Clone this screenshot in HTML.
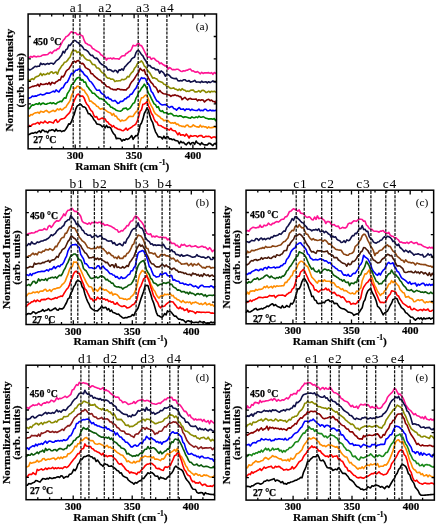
<!DOCTYPE html><html><head><meta charset="utf-8"><style>
html,body{margin:0;padding:0;background:#fff;}
body{width:436px;height:527px;overflow:hidden;}
svg{display:block;will-change:transform;}
text{font-family:"Liberation Serif",serif;}
.tl{font-size:11px;font-weight:bold;stroke:#000;stroke-width:0.2px;text-anchor:middle;}
.al{font-size:11.4px;font-weight:bold;stroke:#000;stroke-width:0.2px;text-anchor:middle;}
.pl{font-size:13.5px;letter-spacing:0.8px;text-anchor:middle;}
.tag{font-size:11.4px;text-anchor:middle;}
.tp{font-size:9.8px;font-weight:bold;stroke:#000;stroke-width:0.25px;}
</style></head><body><svg width="436" height="527" viewBox="0 0 436 527"><rect width="436" height="527" fill="#fff"/><path d="M28.1 58.2 L29.5 57.5 L30.9 56.4 L32.3 57.2 L33.7 56.1 L35.1 56.4 L36.5 56.9 L37.9 56.2 L39.3 56.5 L40.7 56.3 L42.1 55.3 L43.5 54.9 L44.9 54.9 L46.3 54.7 L47.7 54.5 L49.1 53 L50.5 52.1 L51.9 53.4 L53.3 51.6 L54.7 50.2 L56.1 50.4 L57.5 48.9 L58.9 48.6 L60.3 45.8 L61.7 43.2 L63.1 40.5 L64.5 39.2 L65.9 36.8 L67.3 36.1 L68.7 35 L70.1 33 L71.5 31.7 L72.9 32.5 L74.3 32.7 L75.7 32.8 L77.1 34.5 L78.5 34.6 L79.9 33.9 L81.3 35.6 L82.7 36.1 L84.1 40.2 L85.5 43.1 L86.9 43.7 L88.3 44.8 L89.7 45.1 L91.1 46.1 L92.5 48.5 L93.9 49.1 L95.3 50.1 L96.7 51 L98.1 51.7 L99.5 52.6 L100.9 54.8 L102.3 55.4 L103.7 56.9 L105.1 57.5 L106.5 60 L107.9 58.3 L109.3 58.5 L110.7 58.1 L112.1 59 L113.5 58 L114.9 58.7 L116.3 58.7 L117.7 58.7 L119.1 59.3 L120.5 57.4 L121.9 56.1 L123.3 55.7 L124.7 55.7 L126.1 53.5 L127.5 52.9 L128.9 51.6 L130.3 51.1 L131.7 48.8 L133.1 45.4 L134.5 45.7 L135.9 45.7 L137.3 43.9 L138.7 43.3 L140.1 45.5 L141.5 45.6 L142.9 48.2 L144.3 51 L145.7 54 L147.1 56.6 L148.5 57.3 L149.9 57 L151.3 59.4 L152.7 58.3 L154.1 58.3 L155.5 59.9 L156.9 61.1 L158.3 61.5 L159.7 63.9 L161.1 62.9 L162.5 64.2 L163.9 65 L165.3 66.1 L166.7 65.3 L168.1 69.1 L169.5 67.5 L170.9 68.4 L172.3 69.8 L173.7 69.4 L175.1 69.8 L176.5 69.3 L177.9 69.2 L179.3 70.1 L180.7 71.2 L182.1 71.5 L183.5 70.7 L184.9 71 L186.3 70.3 L187.7 70.1 L189.1 69.2 L190.5 69.1 L191.9 71 L193.3 70.8 L194.7 71.9 L196.1 72.2 L197.5 71.6 L198.9 72.7 L200.3 73.8 L201.7 72.3 L203.1 73.5 L204.5 72.7 L205.9 72.9 L207.3 72.9 L208.7 72.6 L210.1 73.4 L211.5 72.6 L212.9 74.3 L214.3 72.6 L215.7 73.2 L216.5 74" fill="none" stroke="#ff1493" stroke-width="1.6" stroke-linejoin="round"/><path d="M28.1 68.6 L29.5 70 L30.9 69.4 L32.3 68.6 L33.7 67.5 L35.1 66.3 L36.5 66.8 L37.9 66.2 L39.3 66.3 L40.7 63.2 L42.1 64.5 L43.5 63.7 L44.9 64.7 L46.3 64 L47.7 63.4 L49.1 64.2 L50.5 63.2 L51.9 63.2 L53.3 64.1 L54.7 62.8 L56.1 60.9 L57.5 59.9 L58.9 58.9 L60.3 56.7 L61.7 55.1 L63.1 51.2 L64.5 52.9 L65.9 49.7 L67.3 48.9 L68.7 45 L70.1 45.4 L71.5 43.6 L72.9 41.7 L74.3 40.4 L75.7 40.8 L77.1 42.2 L78.5 42.8 L79.9 44.7 L81.3 45.5 L82.7 47.1 L84.1 49.4 L85.5 49.8 L86.9 50.6 L88.3 51.9 L89.7 54.2 L91.1 55.5 L92.5 55.2 L93.9 57.4 L95.3 58.4 L96.7 58.1 L98.1 59.6 L99.5 62.1 L100.9 63.7 L102.3 64.8 L103.7 65.3 L105.1 66.5 L106.5 67.3 L107.9 70.1 L109.3 69.6 L110.7 70 L112.1 71 L113.5 71.8 L114.9 70.3 L116.3 70.8 L117.7 72.7 L119.1 69.9 L120.5 70.2 L121.9 68.9 L123.3 70.3 L124.7 66.9 L126.1 65.6 L127.5 63.9 L128.9 62.5 L130.3 61.3 L131.7 58.8 L133.1 57.8 L134.5 57.3 L135.9 52.9 L137.3 50.8 L138.7 50.5 L140.1 52.4 L141.5 54.6 L142.9 55.8 L144.3 58.8 L145.7 60.7 L147.1 63.4 L148.5 65.8 L149.9 65.4 L151.3 67.3 L152.7 68.1 L154.1 68 L155.5 69.6 L156.9 69.6 L158.3 69.9 L159.7 73.2 L161.1 70.9 L162.5 71.9 L163.9 73.3 L165.3 76.2 L166.7 74.1 L168.1 74.6 L169.5 75.5 L170.9 77.2 L172.3 78 L173.7 78.5 L175.1 78.6 L176.5 78.4 L177.9 80.6 L179.3 80.9 L180.7 80.4 L182.1 80.9 L183.5 79.8 L184.9 79.7 L186.3 80.9 L187.7 81.3 L189.1 80.5 L190.5 82.1 L191.9 81.7 L193.3 81.3 L194.7 80.3 L196.1 82.1 L197.5 82 L198.9 82 L200.3 82.6 L201.7 81.2 L203.1 82.3 L204.5 82 L205.9 81.7 L207.3 82.9 L208.7 81.7 L210.1 82.6 L211.5 81.9 L212.9 80.9 L214.3 82 L215.7 81.7 L216.5 82.8" fill="none" stroke="#101048" stroke-width="1.6" stroke-linejoin="round"/><path d="M28.1 78.8 L29.5 81.2 L30.9 79.5 L32.3 78.6 L33.7 79.5 L35.1 77.5 L36.5 76.6 L37.9 76.3 L39.3 75.4 L40.7 73.3 L42.1 75.6 L43.5 73.8 L44.9 74.8 L46.3 74.3 L47.7 73.1 L49.1 74.1 L50.5 72.2 L51.9 71.7 L53.3 73.4 L54.7 72.6 L56.1 72 L57.5 74.2 L58.9 70.3 L60.3 68.3 L61.7 65.8 L63.1 64.6 L64.5 62.2 L65.9 62 L67.3 60.7 L68.7 58.5 L70.1 57.1 L71.5 53.1 L72.9 50.5 L74.3 50.6 L75.7 50.5 L77.1 52.6 L78.5 51.9 L79.9 52.7 L81.3 55.9 L82.7 54.9 L84.1 57.1 L85.5 58.7 L86.9 59.8 L88.3 60.2 L89.7 60.3 L91.1 62.2 L92.5 64.5 L93.9 64.5 L95.3 65.3 L96.7 67.9 L98.1 68 L99.5 69 L100.9 71.2 L102.3 72.7 L103.7 73.2 L105.1 74.6 L106.5 77.1 L107.9 78.2 L109.3 78 L110.7 79.2 L112.1 79.1 L113.5 79.5 L114.9 81.6 L116.3 80.9 L117.7 81 L119.1 80.8 L120.5 80.7 L121.9 79.3 L123.3 79.7 L124.7 79.4 L126.1 78.6 L127.5 76.4 L128.9 77 L130.3 74.4 L131.7 72.6 L133.1 71.3 L134.5 68.3 L135.9 66.8 L137.3 63.9 L138.7 62.6 L140.1 62 L141.5 60.9 L142.9 62.8 L144.3 66 L145.7 67.1 L147.1 69.7 L148.5 71.5 L149.9 73.1 L151.3 75.7 L152.7 78.2 L154.1 77.7 L155.5 78.6 L156.9 79 L158.3 80.9 L159.7 81.4 L161.1 82 L162.5 82.6 L163.9 84.3 L165.3 84.5 L166.7 86.4 L168.1 86.3 L169.5 87.8 L170.9 88.5 L172.3 88.2 L173.7 87.9 L175.1 89.1 L176.5 89.3 L177.9 90.4 L179.3 89.1 L180.7 90.5 L182.1 88.7 L183.5 89.9 L184.9 90.2 L186.3 91.5 L187.7 91.1 L189.1 91.5 L190.5 90.3 L191.9 90.1 L193.3 90 L194.7 91.9 L196.1 91.9 L197.5 91.7 L198.9 90.7 L200.3 92.1 L201.7 90.6 L203.1 90.2 L204.5 91 L205.9 92.4 L207.3 92.2 L208.7 91.2 L210.1 92.4 L211.5 91.2 L212.9 91.7 L214.3 91.2 L215.7 92.1 L216.5 92.4" fill="none" stroke="#8a8a00" stroke-width="1.6" stroke-linejoin="round"/><path d="M28.1 88.2 L29.5 87.8 L30.9 87.1 L32.3 86.4 L33.7 86.4 L35.1 85.7 L36.5 85.6 L37.9 84.2 L39.3 86.3 L40.7 83.7 L42.1 84.5 L43.5 84.4 L44.9 84.2 L46.3 83.5 L47.7 84.4 L49.1 82.5 L50.5 84.9 L51.9 82.3 L53.3 83.1 L54.7 83.6 L56.1 81.8 L57.5 81.3 L58.9 79.8 L60.3 80 L61.7 76.3 L63.1 77 L64.5 75 L65.9 71.6 L67.3 69.9 L68.7 69.1 L70.1 66.9 L71.5 64.7 L72.9 61.8 L74.3 61.2 L75.7 62.4 L77.1 60.8 L78.5 60.4 L79.9 62.3 L81.3 63.7 L82.7 63.4 L84.1 64.9 L85.5 67.6 L86.9 68.4 L88.3 69.2 L89.7 70.1 L91.1 73.6 L92.5 73.7 L93.9 75.6 L95.3 76.8 L96.7 78 L98.1 79.1 L99.5 80.1 L100.9 80.6 L102.3 82.8 L103.7 83.1 L105.1 84.5 L106.5 86.5 L107.9 86.8 L109.3 87.2 L110.7 88.8 L112.1 89 L113.5 89.8 L114.9 89.6 L116.3 89.9 L117.7 88.7 L119.1 89 L120.5 89.8 L121.9 89.5 L123.3 89.9 L124.7 89.7 L126.1 90.1 L127.5 88.3 L128.9 87.3 L130.3 84.2 L131.7 81.9 L133.1 80.5 L134.5 78.5 L135.9 76.2 L137.3 73.9 L138.7 72.2 L140.1 68.3 L141.5 69.8 L142.9 70.8 L144.3 69.7 L145.7 74.4 L147.1 75.1 L148.5 78.1 L149.9 80.5 L151.3 82.7 L152.7 83.8 L154.1 86.5 L155.5 86.9 L156.9 89.1 L158.3 92.4 L159.7 90.4 L161.1 92 L162.5 93.2 L163.9 93.7 L165.3 94 L166.7 94.1 L168.1 94.8 L169.5 95.1 L170.9 96.4 L172.3 95.4 L173.7 95.4 L175.1 94.8 L176.5 95.7 L177.9 95.6 L179.3 96.6 L180.7 96.5 L182.1 99.6 L183.5 98.3 L184.9 97.4 L186.3 98.8 L187.7 99.9 L189.1 98.7 L190.5 98.4 L191.9 99.2 L193.3 99.2 L194.7 99.3 L196.1 98.9 L197.5 100.9 L198.9 99.7 L200.3 100.4 L201.7 99.8 L203.1 100 L204.5 102 L205.9 100.7 L207.3 99.7 L208.7 99.3 L210.1 100.7 L211.5 100 L212.9 101.4 L214.3 101.5 L215.7 103 L216.5 100.2" fill="none" stroke="#800000" stroke-width="1.6" stroke-linejoin="round"/><path d="M28.1 98.5 L29.5 97.9 L30.9 97.5 L32.3 96.1 L33.7 96.5 L35.1 95.9 L36.5 96.2 L37.9 95.2 L39.3 94.8 L40.7 94.1 L42.1 94.9 L43.5 94.8 L44.9 94.2 L46.3 93.1 L47.7 93 L49.1 93.3 L50.5 92.6 L51.9 91.9 L53.3 91.1 L54.7 92 L56.1 89.9 L57.5 91.1 L58.9 92 L60.3 89.7 L61.7 88.1 L63.1 87.7 L64.5 84.8 L65.9 82.7 L67.3 82.2 L68.7 79.4 L70.1 76.2 L71.5 73.3 L72.9 73.8 L74.3 72 L75.7 70.2 L77.1 70.3 L78.5 69.2 L79.9 68.8 L81.3 71 L82.7 72 L84.1 74.3 L85.5 75.6 L86.9 76.5 L88.3 78.8 L89.7 81.1 L91.1 81.9 L92.5 83.8 L93.9 85.9 L95.3 88.1 L96.7 90.1 L98.1 90.3 L99.5 90.1 L100.9 92.7 L102.3 93.9 L103.7 94.3 L105.1 96.5 L106.5 98.2 L107.9 97.1 L109.3 98.9 L110.7 99.1 L112.1 100.8 L113.5 101 L114.9 100.4 L116.3 101.8 L117.7 103.4 L119.1 103 L120.5 101.3 L121.9 101.5 L123.3 100.7 L124.7 98.9 L126.1 98.6 L127.5 97.1 L128.9 96.8 L130.3 94.4 L131.7 94.3 L133.1 92.2 L134.5 89.8 L135.9 88.4 L137.3 85.3 L138.7 82.6 L140.1 79.7 L141.5 77.6 L142.9 78.5 L144.3 78 L145.7 79.2 L147.1 82.8 L148.5 84.1 L149.9 86.9 L151.3 91.5 L152.7 92.8 L154.1 95.9 L155.5 98.7 L156.9 101 L158.3 101.5 L159.7 103.3 L161.1 104.4 L162.5 105 L163.9 104.7 L165.3 104.5 L166.7 105.3 L168.1 106.7 L169.5 107.6 L170.9 106.6 L172.3 106.6 L173.7 108.4 L175.1 108.9 L176.5 110.1 L177.9 108.6 L179.3 107.5 L180.7 109.1 L182.1 109.2 L183.5 108.9 L184.9 110.6 L186.3 108.9 L187.7 109.3 L189.1 109 L190.5 110.5 L191.9 109.2 L193.3 110 L194.7 110.3 L196.1 110.5 L197.5 110.4 L198.9 109 L200.3 110.7 L201.7 110.3 L203.1 110.8 L204.5 109.2 L205.9 109.2 L207.3 110.8 L208.7 110.8 L210.1 109.9 L211.5 110.7 L212.9 110.4 L214.3 110.7 L215.7 110.4 L216.5 110.3" fill="none" stroke="#0000ff" stroke-width="1.6" stroke-linejoin="round"/><path d="M28.1 107.9 L29.5 108.6 L30.9 106.4 L32.3 104.9 L33.7 105.2 L35.1 104.3 L36.5 103.7 L37.9 104.4 L39.3 102.9 L40.7 104.7 L42.1 103.4 L43.5 103.1 L44.9 104.2 L46.3 104.3 L47.7 103.5 L49.1 103.3 L50.5 102.6 L51.9 103.7 L53.3 102.7 L54.7 103.7 L56.1 103.9 L57.5 102.5 L58.9 102 L60.3 101.3 L61.7 101.8 L63.1 99.6 L64.5 97.8 L65.9 98.2 L67.3 93.7 L68.7 91.6 L70.1 89.3 L71.5 84.8 L72.9 83.8 L74.3 82 L75.7 79.6 L77.1 78.1 L78.5 77.5 L79.9 77.3 L81.3 80.3 L82.7 79.6 L84.1 82.3 L85.5 82.1 L86.9 86.1 L88.3 87.5 L89.7 89.7 L91.1 91 L92.5 93.3 L93.9 93.2 L95.3 94.4 L96.7 96.1 L98.1 97.1 L99.5 98.8 L100.9 98.5 L102.3 99.4 L103.7 99.4 L105.1 101.4 L106.5 102.5 L107.9 104.2 L109.3 104.8 L110.7 107.2 L112.1 107.3 L113.5 108.6 L114.9 109.1 L116.3 110.3 L117.7 110.7 L119.1 111 L120.5 111.2 L121.9 110.4 L123.3 108.6 L124.7 108.4 L126.1 107.9 L127.5 109.7 L128.9 108.9 L130.3 107.8 L131.7 105.6 L133.1 103.4 L134.5 102.7 L135.9 98.4 L137.3 96.1 L138.7 92.2 L140.1 90.9 L141.5 88.1 L142.9 86.6 L144.3 84.1 L145.7 86.3 L147.1 89.5 L148.5 93.4 L149.9 95.3 L151.3 98.3 L152.7 101.1 L154.1 103.8 L155.5 104.7 L156.9 107.5 L158.3 106.6 L159.7 110.3 L161.1 111.5 L162.5 110.7 L163.9 112.7 L165.3 112.7 L166.7 112.7 L168.1 114.3 L169.5 113.7 L170.9 113.4 L172.3 114.2 L173.7 115.7 L175.1 115.7 L176.5 115.6 L177.9 116.4 L179.3 115.9 L180.7 115.7 L182.1 116.6 L183.5 117.5 L184.9 116.7 L186.3 117 L187.7 117.4 L189.1 118 L190.5 118.1 L191.9 116.8 L193.3 117.7 L194.7 117.7 L196.1 116.9 L197.5 117.6 L198.9 116.2 L200.3 117.2 L201.7 117.3 L203.1 116.6 L204.5 117.4 L205.9 118.3 L207.3 118.5 L208.7 119.1 L210.1 118.8 L211.5 118.9 L212.9 119.2 L214.3 118.5 L215.7 120.7 L216.5 119.3" fill="none" stroke="#008000" stroke-width="1.6" stroke-linejoin="round"/><path d="M28.1 115.6 L29.5 116.1 L30.9 114.5 L32.3 114.9 L33.7 113.6 L35.1 112.9 L36.5 112.7 L37.9 112.2 L39.3 113.3 L40.7 111.3 L42.1 111.7 L43.5 112.3 L44.9 111.1 L46.3 110.4 L47.7 111.5 L49.1 112.7 L50.5 111.7 L51.9 111.1 L53.3 110.3 L54.7 111.5 L56.1 110.5 L57.5 108.8 L58.9 110 L60.3 108.6 L61.7 110 L63.1 109.3 L64.5 107.8 L65.9 107.2 L67.3 104.7 L68.7 102.8 L70.1 100.5 L71.5 95.5 L72.9 92.8 L74.3 88.1 L75.7 88.3 L77.1 86.2 L78.5 86.3 L79.9 87.9 L81.3 88 L82.7 90 L84.1 90.1 L85.5 92.8 L86.9 94.5 L88.3 96.9 L89.7 101.3 L91.1 101 L92.5 102.5 L93.9 103.5 L95.3 104.4 L96.7 106.3 L98.1 106.6 L99.5 108.6 L100.9 109.2 L102.3 108.3 L103.7 109.3 L105.1 109.8 L106.5 110.8 L107.9 112 L109.3 112.6 L110.7 113 L112.1 115.3 L113.5 113.5 L114.9 116.1 L116.3 116.1 L117.7 118.7 L119.1 119.5 L120.5 121.4 L121.9 120.1 L123.3 120.7 L124.7 120.5 L126.1 119.7 L127.5 118.1 L128.9 116.6 L130.3 116.3 L131.7 116.5 L133.1 116.4 L134.5 113.9 L135.9 112.1 L137.3 110.7 L138.7 107.7 L140.1 101.8 L141.5 97.7 L142.9 97.7 L144.3 96.2 L145.7 95 L147.1 95.9 L148.5 99.5 L149.9 103.2 L151.3 105.9 L152.7 108.1 L154.1 111.8 L155.5 113.9 L156.9 114.7 L158.3 116.1 L159.7 116.7 L161.1 118.4 L162.5 118.9 L163.9 120.7 L165.3 120.3 L166.7 120.7 L168.1 120.5 L169.5 122.2 L170.9 123.2 L172.3 122.7 L173.7 123.2 L175.1 122.6 L176.5 124.4 L177.9 124 L179.3 125.6 L180.7 125.8 L182.1 126.4 L183.5 126.3 L184.9 127 L186.3 125.3 L187.7 125.1 L189.1 126.8 L190.5 126.9 L191.9 126.4 L193.3 124.8 L194.7 126.1 L196.1 126.6 L197.5 126.9 L198.9 127.2 L200.3 125.1 L201.7 127 L203.1 126.2 L204.5 126.9 L205.9 126.7 L207.3 128.1 L208.7 126.8 L210.1 127.8 L211.5 127.6 L212.9 127.4 L214.3 126.8 L215.7 127.1 L216.5 127.2" fill="none" stroke="#ff8c00" stroke-width="1.6" stroke-linejoin="round"/><path d="M28.1 127.4 L29.5 125.6 L30.9 126.2 L32.3 124.4 L33.7 124 L35.1 124 L36.5 123.1 L37.9 122.4 L39.3 124.1 L40.7 122 L42.1 122.4 L43.5 122.9 L44.9 121 L46.3 122.4 L47.7 123.1 L49.1 121.7 L50.5 122 L51.9 122.4 L53.3 123.1 L54.7 120.6 L56.1 119.6 L57.5 122.4 L58.9 121.4 L60.3 119.5 L61.7 118.9 L63.1 118.6 L64.5 118.2 L65.9 116.6 L67.3 114.9 L68.7 113.7 L70.1 111.8 L71.5 108 L72.9 103.8 L74.3 100.4 L75.7 97.3 L77.1 94.7 L78.5 94 L79.9 95.9 L81.3 96.1 L82.7 96.1 L84.1 97.9 L85.5 101.6 L86.9 104.3 L88.3 105.7 L89.7 108.5 L91.1 110.6 L92.5 111.7 L93.9 115.6 L95.3 117.1 L96.7 116.6 L98.1 119.5 L99.5 119.4 L100.9 118.6 L102.3 118 L103.7 119 L105.1 118.9 L106.5 121.5 L107.9 122.1 L109.3 124.3 L110.7 124.8 L112.1 126.9 L113.5 125.7 L114.9 127.5 L116.3 128 L117.7 129 L119.1 129.4 L120.5 129.6 L121.9 130.5 L123.3 130.7 L124.7 129.6 L126.1 128.1 L127.5 130.2 L128.9 128.7 L130.3 128 L131.7 127.1 L133.1 125.9 L134.5 125.1 L135.9 124 L137.3 120.8 L138.7 116.8 L140.1 111.3 L141.5 109.7 L142.9 104.3 L144.3 104 L145.7 103.1 L147.1 101.6 L148.5 106 L149.9 108.9 L151.3 113.3 L152.7 115.2 L154.1 119 L155.5 121.7 L156.9 122.1 L158.3 125.2 L159.7 125.5 L161.1 125.8 L162.5 127 L163.9 127.6 L165.3 128.6 L166.7 128 L168.1 129.5 L169.5 130.1 L170.9 128.3 L172.3 130.3 L173.7 130.7 L175.1 130.7 L176.5 132.6 L177.9 134.9 L179.3 132.8 L180.7 135.3 L182.1 134.8 L183.5 134.9 L184.9 136.1 L186.3 134 L187.7 135.7 L189.1 138 L190.5 135.5 L191.9 136.3 L193.3 136.1 L194.7 135.7 L196.1 135.8 L197.5 136.9 L198.9 135.8 L200.3 135.5 L201.7 135.6 L203.1 137.2 L204.5 137.1 L205.9 136.2 L207.3 136.5 L208.7 136.3 L210.1 136.7 L211.5 138.1 L212.9 137.2 L214.3 136.8 L215.7 137.7 L216.5 136.4" fill="none" stroke="#ff0000" stroke-width="1.6" stroke-linejoin="round"/><path d="M28.1 135 L29.5 134.3 L30.9 133.5 L32.3 133 L33.7 133.2 L35.1 132.3 L36.5 133 L37.9 131.9 L39.3 130.8 L40.7 132.5 L42.1 130.1 L43.5 130.3 L44.9 131.7 L46.3 131.3 L47.7 132.7 L49.1 130.4 L50.5 130.5 L51.9 129.8 L53.3 130 L54.7 131.4 L56.1 129.2 L57.5 130.9 L58.9 130.7 L60.3 130.5 L61.7 131.7 L63.1 130.8 L64.5 130.9 L65.9 129 L67.3 126.8 L68.7 123.9 L70.1 124.1 L71.5 121.5 L72.9 117.4 L74.3 114.1 L75.7 109.2 L77.1 106.2 L78.5 105.2 L79.9 104.1 L81.3 104.7 L82.7 106.6 L84.1 106.9 L85.5 107.6 L86.9 110.3 L88.3 113.8 L89.7 113.7 L91.1 115.7 L92.5 117 L93.9 119.8 L95.3 121.2 L96.7 123.9 L98.1 124.2 L99.5 124.6 L100.9 125.2 L102.3 126.8 L103.7 125.9 L105.1 127.8 L106.5 125.4 L107.9 127.5 L109.3 127.1 L110.7 128 L112.1 131.1 L113.5 133.6 L114.9 134.8 L116.3 138.6 L117.7 138.4 L119.1 138.5 L120.5 138.8 L121.9 141.2 L123.3 139.5 L124.7 140.2 L126.1 138.8 L127.5 139.4 L128.9 138.7 L130.3 137.2 L131.7 135.6 L133.1 139.3 L134.5 137.1 L135.9 135.6 L137.3 135.7 L138.7 132.2 L140.1 125 L141.5 123 L142.9 119.1 L144.3 113.5 L145.7 110.9 L147.1 107.8 L148.5 110.5 L149.9 116.1 L151.3 120.2 L152.7 122.6 L154.1 127.7 L155.5 131.8 L156.9 134.1 L158.3 136.9 L159.7 136.8 L161.1 137.2 L162.5 139 L163.9 136.1 L165.3 138.5 L166.7 136.9 L168.1 136.8 L169.5 139.1 L170.9 138.7 L172.3 139.8 L173.7 139.2 L175.1 140.4 L176.5 140.7 L177.9 141 L179.3 143.7 L180.7 141.3 L182.1 142.8 L183.5 142.2 L184.9 143.9 L186.3 144.9 L187.7 143 L189.1 142.3 L190.5 144.6 L191.9 142.8 L193.3 142.6 L194.7 144.3 L196.1 141 L197.5 143.1 L198.9 143.5 L200.3 144.8 L201.7 142.7 L203.1 144.2 L204.5 144.9 L205.9 144.7 L207.3 145 L208.7 143.4 L210.1 143.4 L211.5 144.5 L212.9 145.6 L214.3 143.6 L215.7 144.1 L216.5 142.4" fill="none" stroke="#000000" stroke-width="1.6" stroke-linejoin="round"/><line x1="73.2" y1="14.8" x2="73.2" y2="147.6" stroke="#111" stroke-width="1.25" stroke-dasharray="3 1.2"/><line x1="79.9" y1="14.8" x2="79.9" y2="147.6" stroke="#111" stroke-width="1.25" stroke-dasharray="3 1.2"/><line x1="104.0" y1="14.8" x2="104.0" y2="147.6" stroke="#111" stroke-width="1.25" stroke-dasharray="3 1.2"/><line x1="138.2" y1="14.8" x2="138.2" y2="147.6" stroke="#111" stroke-width="1.25" stroke-dasharray="3 1.2"/><line x1="147.3" y1="14.8" x2="147.3" y2="147.6" stroke="#111" stroke-width="1.25" stroke-dasharray="3 1.2"/><line x1="166.9" y1="14.8" x2="166.9" y2="147.6" stroke="#111" stroke-width="1.25" stroke-dasharray="3 1.2"/><path d="M39.9 148.8V146.4M39.9 14V16.4M51.7 148.8V146.4M51.7 14V16.4M63.4 148.8V146.4M63.4 14V16.4M75.2 148.8V144.5M75.2 14V18.3M87 148.8V146.4M87 14V16.4M98.8 148.8V146.4M98.8 14V16.4M110.5 148.8V146.4M110.5 14V16.4M122.3 148.8V146.4M122.3 14V16.4M134.1 148.8V144.5M134.1 14V18.3M145.8 148.8V146.4M145.8 14V16.4M157.6 148.8V146.4M157.6 14V16.4M169.4 148.8V146.4M169.4 14V16.4M181.2 148.8V146.4M181.2 14V16.4M192.9 148.8V144.5M192.9 14V18.3M204.7 148.8V146.4M204.7 14V16.4M28.1 36.5H30.9M216.5 36.5H213.7M28.1 58.9H30.9M216.5 58.9H213.7M28.1 81.4H30.9M216.5 81.4H213.7M28.1 103.9H30.9M216.5 103.9H213.7M28.1 126.3H30.9M216.5 126.3H213.7" stroke="#000" stroke-width="1.3" fill="none"/><rect x="28.1" y="14.0" width="188.4" height="134.8" fill="none" stroke="#000" stroke-width="1.5"/><text x="75.2" y="159" class="tl">300</text><text x="134.1" y="159" class="tl">350</text><text x="192.9" y="159" class="tl">400</text><text x="122.3" y="169.6" class="al">Raman Shift (cm<tspan dx="1.2" dy="-4.2" font-size="7.5">-1</tspan><tspan dy="4.2">)</tspan></text><text transform="translate(12.8,80.2) rotate(-90)" class="al">Normalized Intensity</text><text transform="translate(23.5,80.2) rotate(-90)" class="al">(arb. units)</text><text x="77" y="11.7" class="pl">a1</text><text x="105.5" y="11.7" class="pl">a2</text><text x="143.2" y="11.7" class="pl">a3</text><text x="167.3" y="11.7" class="pl">a4</text><text x="202.1" y="29.6" class="tag">(a)</text><text x="33.2" y="44.8" class="tp">450 °C</text><text x="33.2" y="143.2" class="tp">27 °C</text><path d="M26.1 234.9 L27.4 234.2 L28.8 233.6 L30.2 233.4 L31.6 232.8 L33 233 L34.4 232.8 L35.8 231.6 L37.2 231.7 L38.6 230.5 L40 230 L41.4 230.1 L42.8 230 L44.2 228.5 L45.6 229.5 L47 229.7 L48.4 226.4 L49.8 225.5 L51.2 227.5 L52.6 225.8 L54 223.3 L55.4 221.9 L56.8 220.6 L58.2 221.2 L59.6 220.6 L61 218.5 L62.4 216.8 L63.8 213.9 L65.2 215.7 L66.6 212.1 L68 210.2 L69.4 210.1 L70.8 209 L72.2 208.4 L73.7 210.6 L75.1 211.5 L76.5 211.2 L77.9 212.9 L79.3 214.3 L80.7 216.3 L82.1 220.9 L83.5 222.6 L84.9 223 L86.3 223.6 L87.7 224.3 L89.1 222.8 L90.5 224.3 L91.9 222.4 L93.3 222.8 L94.7 222.4 L96.1 222.4 L97.5 223 L98.9 222.2 L100.3 222.3 L101.7 224.4 L103.1 223.3 L104.5 225.4 L105.9 225 L107.3 224.8 L108.7 225.6 L110.1 226 L111.5 226.6 L112.9 227.5 L114.3 228.3 L115.7 229.5 L117.1 229.7 L118.5 232.1 L119.9 231.8 L121.3 230.6 L122.7 231 L124.1 229.1 L125.5 228 L126.9 225.6 L128.3 225.8 L129.7 222.8 L131.1 221 L132.5 220.8 L133.9 218 L135.3 216.1 L136.7 216.5 L138.1 217.8 L139.5 220 L140.9 221.3 L142.3 223 L143.7 225.4 L145.1 229.4 L146.5 232.8 L147.9 234 L149.3 234.5 L150.7 233.8 L152.1 236.9 L153.5 236.1 L154.9 237 L156.3 236 L157.7 236.6 L159.1 237.4 L160.5 237 L161.9 237.4 L163.3 237.4 L164.7 237.6 L166.1 237.6 L167.5 239.8 L168.9 238.9 L170.3 241.4 L171.7 243.5 L173.1 243.3 L174.5 243.5 L175.9 245.6 L177.3 245.2 L178.7 247.1 L180.1 247.1 L181.5 244.4 L182.9 245.3 L184.3 244.4 L185.7 245.8 L187.1 246.4 L188.5 245.7 L189.9 245.3 L191.3 246.6 L192.7 246.5 L194.1 246.3 L195.5 245.7 L196.9 246.8 L198.3 247.5 L199.7 247.1 L201.1 246.4 L202.5 246.2 L203.9 247.3 L205.3 247 L206.7 248.4 L208.1 249.6 L209.5 247.6 L210.9 249.1 L212.3 251.7 L213.7 250.3 L214.9 249.9" fill="none" stroke="#ff1493" stroke-width="1.6" stroke-linejoin="round"/><path d="M26.1 246.2 L27.4 245.3 L28.8 243.6 L30.2 244.8 L31.6 241.9 L33 243.4 L34.4 243.9 L35.8 243.6 L37.2 241.9 L38.6 242.4 L40 241.8 L41.4 241 L42.8 241 L44.2 240.1 L45.6 240 L47 239 L48.4 238.3 L49.8 236.8 L51.2 234.8 L52.6 235.6 L54 234.3 L55.4 233.4 L56.8 231 L58.2 229.6 L59.6 228.4 L61 228.4 L62.4 226.5 L63.8 225.6 L65.2 222 L66.6 221.1 L68 219.7 L69.4 219.7 L70.8 215.6 L72.2 217.4 L73.7 219.2 L75.1 221.2 L76.5 224.5 L77.9 223.8 L79.3 226 L80.7 227.1 L82.1 230 L83.5 230.8 L84.9 233.5 L86.3 233.8 L87.7 235.1 L89.1 235.3 L90.5 235.1 L91.9 237.4 L93.3 236.8 L94.7 235.6 L96.1 235.2 L97.5 236.9 L98.9 236.4 L100.3 235.5 L101.7 236.7 L103.1 239 L104.5 238.9 L105.9 239.5 L107.3 240.8 L108.7 241.1 L110.1 241 L111.5 240.9 L112.9 243.6 L114.3 242.5 L115.7 244.7 L117.1 245.3 L118.5 244.2 L119.9 243.6 L121.3 245 L122.7 245.7 L124.1 242.2 L125.5 243.1 L126.9 239.3 L128.3 237.6 L129.7 235.2 L131.1 231.8 L132.5 229.6 L133.9 228.6 L135.3 228.6 L136.7 226.6 L138.1 222.8 L139.5 226.8 L140.9 227.8 L142.3 228.6 L143.7 231.7 L145.1 236.9 L146.5 239.3 L147.9 240.8 L149.3 241.6 L150.7 244.2 L152.1 243.8 L153.5 245.4 L154.9 244.7 L156.3 245.5 L157.7 245.1 L159.1 245 L160.5 245.4 L161.9 245.4 L163.3 244.3 L164.7 246.5 L166.1 248.5 L167.5 249 L168.9 248.7 L170.3 251.1 L171.7 249.8 L173.1 251.8 L174.5 251.8 L175.9 254.5 L177.3 254.6 L178.7 255 L180.1 256.1 L181.5 254.5 L182.9 256.1 L184.3 255.9 L185.7 255.4 L187.1 254.9 L188.5 255.4 L189.9 255.9 L191.3 256.7 L192.7 257.3 L194.1 256.9 L195.5 256.6 L196.9 254.6 L198.3 256.2 L199.7 256.3 L201.1 257.2 L202.5 257 L203.9 257.1 L205.3 258.2 L206.7 257.8 L208.1 256.6 L209.5 257.4 L210.9 259.5 L212.3 259.5 L213.7 258.1 L214.9 258.6" fill="none" stroke="#101048" stroke-width="1.6" stroke-linejoin="round"/><path d="M26.1 257.4 L27.4 256.8 L28.8 255.8 L30.2 255.9 L31.6 254.3 L33 253.1 L34.4 254.7 L35.8 253.6 L37.2 254.8 L38.6 252 L40 252.2 L41.4 252.7 L42.8 251.1 L44.2 251.3 L45.6 249.4 L47 249.7 L48.4 250 L49.8 248.6 L51.2 249.4 L52.6 250.4 L54 249.1 L55.4 246.3 L56.8 246.8 L58.2 243.5 L59.6 241.6 L61 238.8 L62.4 237.5 L63.8 237.4 L65.2 233.4 L66.6 233.1 L68 230.1 L69.4 226.9 L70.8 226.1 L72.2 227.9 L73.7 227.8 L75.1 228.6 L76.5 231.3 L77.9 233.7 L79.3 237.2 L80.7 238.8 L82.1 240.8 L83.5 241.6 L84.9 242.9 L86.3 245.2 L87.7 247.7 L89.1 247.8 L90.5 248.7 L91.9 248.8 L93.3 248.4 L94.7 248.3 L96.1 248.4 L97.5 246.7 L98.9 247.9 L100.3 246.4 L101.7 248.7 L103.1 248.6 L104.5 250.3 L105.9 251.5 L107.3 253.9 L108.7 252.4 L110.1 253.6 L111.5 255.4 L112.9 255.7 L114.3 257.9 L115.7 257.2 L117.1 258.6 L118.5 256.2 L119.9 258.5 L121.3 258.3 L122.7 258.5 L124.1 256.1 L125.5 256.4 L126.9 253.5 L128.3 252.9 L129.7 251 L131.1 248.1 L132.5 244.9 L133.9 243.8 L135.3 239.1 L136.7 238.3 L138.1 235.1 L139.5 235.6 L140.9 236 L142.3 237.9 L143.7 240.6 L145.1 244.9 L146.5 248.2 L147.9 248.6 L149.3 252.9 L150.7 252.8 L152.1 253.1 L153.5 254 L154.9 253.1 L156.3 255.8 L157.7 257.1 L159.1 257 L160.5 255 L161.9 254.2 L163.3 255.1 L164.7 254.6 L166.1 255.9 L167.5 255.7 L168.9 256.2 L170.3 257.7 L171.7 258.9 L173.1 258.1 L174.5 259.4 L175.9 261.4 L177.3 260.1 L178.7 261.8 L180.1 262.7 L181.5 264.1 L182.9 264 L184.3 263.9 L185.7 263.6 L187.1 263.4 L188.5 265.7 L189.9 264.6 L191.3 263.4 L192.7 266 L194.1 263.9 L195.5 264.7 L196.9 265.1 L198.3 263.4 L199.7 265.1 L201.1 266.2 L202.5 267.7 L203.9 267.4 L205.3 268.2 L206.7 266.6 L208.1 266.8 L209.5 266.4 L210.9 268.2 L212.3 267.6 L213.7 267.7 L214.9 267.1" fill="none" stroke="#8b4513" stroke-width="1.6" stroke-linejoin="round"/><path d="M26.1 267.4 L27.4 268 L28.8 267.3 L30.2 266.5 L31.6 266.9 L33 267.1 L34.4 263.1 L35.8 264.3 L37.2 263.7 L38.6 263.3 L40 263.6 L41.4 263.4 L42.8 262.4 L44.2 262.7 L45.6 261.5 L47 261.3 L48.4 260.3 L49.8 262.2 L51.2 260.4 L52.6 259.9 L54 259.8 L55.4 258.5 L56.8 256.4 L58.2 257.3 L59.6 253.6 L61 252.2 L62.4 249.4 L63.8 248.8 L65.2 247.5 L66.6 244.5 L68 241.4 L69.4 239.9 L70.8 236.5 L72.2 236.4 L73.7 238 L75.1 238.8 L76.5 240.6 L77.9 242.1 L79.3 244.3 L80.7 245.6 L82.1 248.5 L83.5 250.4 L84.9 252.7 L86.3 253.4 L87.7 255.6 L89.1 258 L90.5 257.8 L91.9 257.6 L93.3 257 L94.7 258.1 L96.1 259.4 L97.5 258 L98.9 259.7 L100.3 258.5 L101.7 259.6 L103.1 260.6 L104.5 261.4 L105.9 262.8 L107.3 262.2 L108.7 264.5 L110.1 266.4 L111.5 264.7 L112.9 264.9 L114.3 267.6 L115.7 263.7 L117.1 267.5 L118.5 266.9 L119.9 267.9 L121.3 268 L122.7 266.6 L124.1 268 L125.5 267.1 L126.9 265.5 L128.3 266.5 L129.7 262.4 L131.1 260.8 L132.5 258.6 L133.9 256.6 L135.3 252.9 L136.7 248.9 L138.1 246.4 L139.5 244.2 L140.9 246.4 L142.3 245.2 L143.7 247.6 L145.1 249.8 L146.5 253.9 L147.9 256.5 L149.3 259.9 L150.7 262.5 L152.1 264 L153.5 264 L154.9 265.9 L156.3 266.9 L157.7 266.9 L159.1 267 L160.5 265.9 L161.9 264.6 L163.3 265 L164.7 266.6 L166.1 264.9 L167.5 266.6 L168.9 266.9 L170.3 268.4 L171.7 269.7 L173.1 268.2 L174.5 268.4 L175.9 270.1 L177.3 270.4 L178.7 272.2 L180.1 271.8 L181.5 272.4 L182.9 272.5 L184.3 273.6 L185.7 273.1 L187.1 274.3 L188.5 274.5 L189.9 274.2 L191.3 275.7 L192.7 273 L194.1 274.1 L195.5 273.7 L196.9 275.3 L198.3 274.4 L199.7 276.2 L201.1 274.9 L202.5 276.4 L203.9 273.6 L205.3 274.9 L206.7 275.6 L208.1 274.7 L209.5 276.5 L210.9 275.5 L212.3 275.1 L213.7 276.3 L214.9 276.5" fill="none" stroke="#4a1a0a" stroke-width="1.6" stroke-linejoin="round"/><path d="M26.1 274.7 L27.4 274.9 L28.8 275.6 L30.2 273.7 L31.6 275.5 L33 273.5 L34.4 273.5 L35.8 272.8 L37.2 272.3 L38.6 271.7 L40 271.7 L41.4 271.4 L42.8 271.2 L44.2 271.5 L45.6 270.6 L47 269.8 L48.4 270.9 L49.8 269.1 L51.2 269.5 L52.6 268.5 L54 266.5 L55.4 268.5 L56.8 266.8 L58.2 265.9 L59.6 266.7 L61 264.7 L62.4 264.4 L63.8 262.1 L65.2 258.7 L66.6 256.1 L68 250.8 L69.4 248.1 L70.8 246.1 L72.2 244.8 L73.7 244.8 L75.1 244.4 L76.5 244.7 L77.9 246.4 L79.3 247.6 L80.7 254.3 L82.1 256.7 L83.5 258.9 L84.9 263.6 L86.3 263.7 L87.7 265.4 L89.1 267.6 L90.5 267.7 L91.9 267.8 L93.3 268.5 L94.7 268.5 L96.1 267.9 L97.5 265.9 L98.9 265.9 L100.3 268.9 L101.7 267.2 L103.1 266.1 L104.5 268.2 L105.9 269.5 L107.3 270.3 L108.7 272.1 L110.1 273.7 L111.5 273.7 L112.9 275 L114.3 275.2 L115.7 277.2 L117.1 276.5 L118.5 278.4 L119.9 278.6 L121.3 276.8 L122.7 278.5 L124.1 278.1 L125.5 277.8 L126.9 276.3 L128.3 274.7 L129.7 274.2 L131.1 270.8 L132.5 270.8 L133.9 267.7 L135.3 265.9 L136.7 258.9 L138.1 253.1 L139.5 251.7 L140.9 251.4 L142.3 250.5 L143.7 251.2 L145.1 254.2 L146.5 256.5 L147.9 261.1 L149.3 266.6 L150.7 268 L152.1 271.9 L153.5 275.2 L154.9 275.9 L156.3 277.1 L157.7 276.7 L159.1 276.5 L160.5 273.7 L161.9 275 L163.3 273.8 L164.7 273.1 L166.1 273.1 L167.5 275.5 L168.9 276 L170.3 275.4 L171.7 275.6 L173.1 280.3 L174.5 279.6 L175.9 280.8 L177.3 281.3 L178.7 281.3 L180.1 283.2 L181.5 283.2 L182.9 283.1 L184.3 284.5 L185.7 283.9 L187.1 284.8 L188.5 285.1 L189.9 284.2 L191.3 284.7 L192.7 286.1 L194.1 286.7 L195.5 285.8 L196.9 286.8 L198.3 288.1 L199.7 286.5 L201.1 285.4 L202.5 285.3 L203.9 286.8 L205.3 286.7 L206.7 286.7 L208.1 286.7 L209.5 286.9 L210.9 285.8 L212.3 286.4 L213.7 287.8 L214.9 285.8" fill="none" stroke="#0000ff" stroke-width="1.6" stroke-linejoin="round"/><path d="M26.1 285.8 L27.4 285.3 L28.8 284.4 L30.2 285.7 L31.6 283.7 L33 281.5 L34.4 281.2 L35.8 283.3 L37.2 282.1 L38.6 278.9 L40 281 L41.4 279.5 L42.8 279.8 L44.2 280.3 L45.6 278.7 L47 280.6 L48.4 278.3 L49.8 278.2 L51.2 277.5 L52.6 277.3 L54 277.9 L55.4 276.9 L56.8 278.3 L58.2 276.5 L59.6 275.2 L61 275.8 L62.4 273.7 L63.8 270.4 L65.2 268.3 L66.6 264.7 L68 262.4 L69.4 258.9 L70.8 255.8 L72.2 255.4 L73.7 254 L75.1 254 L76.5 255.1 L77.9 257.8 L79.3 260 L80.7 260 L82.1 263 L83.5 268.5 L84.9 270 L86.3 271 L87.7 273.7 L89.1 275.9 L90.5 278.1 L91.9 278.6 L93.3 278 L94.7 277.8 L96.1 276.7 L97.5 277.9 L98.9 277.5 L100.3 276.1 L101.7 276.1 L103.1 276.7 L104.5 277.7 L105.9 279.9 L107.3 279.3 L108.7 281 L110.1 281.6 L111.5 283.3 L112.9 283.1 L114.3 285.7 L115.7 286.5 L117.1 287 L118.5 286.8 L119.9 287.5 L121.3 287.4 L122.7 289.1 L124.1 287.9 L125.5 287.2 L126.9 286.7 L128.3 285.2 L129.7 284.8 L131.1 284.1 L132.5 282 L133.9 279.5 L135.3 275.8 L136.7 270.2 L138.1 265.8 L139.5 263.3 L140.9 262 L142.3 261.1 L143.7 260.6 L145.1 264.1 L146.5 269.9 L147.9 272.5 L149.3 274.5 L150.7 278.4 L152.1 279.5 L153.5 282.7 L154.9 283.3 L156.3 284 L157.7 285.8 L159.1 284.8 L160.5 284.2 L161.9 284.3 L163.3 282.7 L164.7 283 L166.1 283.5 L167.5 282.5 L168.9 282.4 L170.3 284.3 L171.7 284.2 L173.1 286.7 L174.5 287.6 L175.9 288.2 L177.3 290.1 L178.7 289.9 L180.1 290.4 L181.5 292 L182.9 291.5 L184.3 291.6 L185.7 292.9 L187.1 292.3 L188.5 294.1 L189.9 292 L191.3 293.4 L192.7 293.3 L194.1 294.2 L195.5 295.3 L196.9 293.9 L198.3 293.6 L199.7 294.6 L201.1 293.7 L202.5 294.5 L203.9 296 L205.3 294.7 L206.7 296.7 L208.1 295.5 L209.5 295.2 L210.9 295.2 L212.3 295.6 L213.7 295.1 L214.9 295.9" fill="none" stroke="#0a5a0a" stroke-width="1.6" stroke-linejoin="round"/><path d="M26.1 296.6 L27.4 294.8 L28.8 293.3 L30.2 293.5 L31.6 293.3 L33 292.1 L34.4 292.6 L35.8 292.4 L37.2 291.6 L38.6 292.8 L40 291.3 L41.4 291 L42.8 291.1 L44.2 289.8 L45.6 289.2 L47 291.2 L48.4 290.8 L49.8 289.6 L51.2 291.5 L52.6 289.6 L54 288.9 L55.4 288.9 L56.8 288.1 L58.2 287.9 L59.6 287.7 L61 286.3 L62.4 284.3 L63.8 283.3 L65.2 281.4 L66.6 277.6 L68 274.4 L69.4 269.7 L70.8 267.1 L72.2 266.8 L73.7 261.9 L75.1 262.3 L76.5 262 L77.9 264.3 L79.3 267.5 L80.7 270.2 L82.1 273.2 L83.5 276.5 L84.9 279.3 L86.3 282.4 L87.7 284.6 L89.1 286.7 L90.5 286.7 L91.9 287.7 L93.3 291.5 L94.7 289 L96.1 289.9 L97.5 291.3 L98.9 289.2 L100.3 287.2 L101.7 289.4 L103.1 289 L104.5 290.3 L105.9 289.6 L107.3 290.9 L108.7 291.9 L110.1 293.5 L111.5 292.1 L112.9 295.1 L114.3 294 L115.7 294.1 L117.1 294.8 L118.5 296.3 L119.9 298.3 L121.3 298.2 L122.7 298.5 L124.1 299.3 L125.5 298.9 L126.9 299.8 L128.3 298.9 L129.7 299 L131.1 296.6 L132.5 295.6 L133.9 294 L135.3 290.9 L136.7 287 L138.1 280.8 L139.5 274.9 L140.9 272.5 L142.3 270.4 L143.7 271.6 L145.1 272.4 L146.5 273.6 L147.9 278 L149.3 279.4 L150.7 284.1 L152.1 286.9 L153.5 289.8 L154.9 291.2 L156.3 294.8 L157.7 296.9 L159.1 298.1 L160.5 296.3 L161.9 295.5 L163.3 295.9 L164.7 294.1 L166.1 294.8 L167.5 294.3 L168.9 294.7 L170.3 293.7 L171.7 295.8 L173.1 295.4 L174.5 297.8 L175.9 298.1 L177.3 299.6 L178.7 299.8 L180.1 301.2 L181.5 302.3 L182.9 300.5 L184.3 302 L185.7 302.8 L187.1 301.9 L188.5 302.6 L189.9 301.9 L191.3 304.1 L192.7 302.5 L194.1 302.7 L195.5 302 L196.9 302.7 L198.3 303.3 L199.7 304.3 L201.1 303.3 L202.5 304.6 L203.9 303.9 L205.3 302.5 L206.7 304.9 L208.1 304.2 L209.5 303.5 L210.9 305.3 L212.3 304.4 L213.7 306.1 L214.9 305.5" fill="none" stroke="#ff8c00" stroke-width="1.6" stroke-linejoin="round"/><path d="M26.1 307 L27.4 305.1 L28.8 303.8 L30.2 303.2 L31.6 301.9 L33 301.6 L34.4 300.2 L35.8 301.6 L37.2 300 L38.6 300.9 L40 301.4 L41.4 299.6 L42.8 299.6 L44.2 299.4 L45.6 299.6 L47 298.8 L48.4 298.3 L49.8 298.9 L51.2 299.6 L52.6 298.9 L54 298.6 L55.4 297.6 L56.8 298.3 L58.2 297 L59.6 296.7 L61 296 L62.4 296.4 L63.8 293.8 L65.2 291.6 L66.6 289.4 L68 288 L69.4 285.1 L70.8 280.7 L72.2 277.6 L73.7 273.5 L75.1 271.6 L76.5 271.2 L77.9 273.4 L79.3 273.2 L80.7 277.3 L82.1 281.2 L83.5 284.3 L84.9 288.9 L86.3 290.1 L87.7 293.1 L89.1 295.9 L90.5 298.9 L91.9 298.6 L93.3 301 L94.7 299.7 L96.1 299.9 L97.5 297.2 L98.9 298.5 L100.3 299 L101.7 297.6 L103.1 299.2 L104.5 298.8 L105.9 300.1 L107.3 299.5 L108.7 301.6 L110.1 301.1 L111.5 302.3 L112.9 301.8 L114.3 304 L115.7 304.1 L117.1 302.6 L118.5 304.7 L119.9 305.6 L121.3 306.4 L122.7 306.5 L124.1 305.8 L125.5 306.4 L126.9 307.9 L128.3 307.7 L129.7 307.2 L131.1 306.1 L132.5 304.7 L133.9 304.4 L135.3 302.3 L136.7 300.3 L138.1 293.9 L139.5 288.4 L140.9 286.1 L142.3 282.5 L143.7 278.9 L145.1 277.8 L146.5 275.6 L147.9 278.4 L149.3 282.3 L150.7 286.9 L152.1 291 L153.5 295.7 L154.9 297.8 L156.3 300.7 L157.7 302.4 L159.1 306.3 L160.5 307.8 L161.9 306 L163.3 306.5 L164.7 306.1 L166.1 304.3 L167.5 303.1 L168.9 302.1 L170.3 301.5 L171.7 301.7 L173.1 302 L174.5 304.1 L175.9 305.6 L177.3 307.7 L178.7 308.7 L180.1 306.9 L181.5 308.7 L182.9 308.4 L184.3 310.5 L185.7 310 L187.1 308.9 L188.5 312.1 L189.9 310.6 L191.3 311.3 L192.7 311.4 L194.1 312.1 L195.5 313.4 L196.9 311.7 L198.3 312.1 L199.7 312 L201.1 312.4 L202.5 312.2 L203.9 312.3 L205.3 312.5 L206.7 312.2 L208.1 312.2 L209.5 312.3 L210.9 313.2 L212.3 312.9 L213.7 313.3 L214.9 313.4" fill="none" stroke="#ff0000" stroke-width="1.6" stroke-linejoin="round"/><path d="M26.1 315.2 L27.4 313.9 L28.8 313.6 L30.2 314.1 L31.6 313.6 L33 311.8 L34.4 312.2 L35.8 313.6 L37.2 312.7 L38.6 311.9 L40 311.6 L41.4 311.1 L42.8 309.5 L44.2 311.4 L45.6 310.4 L47 310.3 L48.4 308.8 L49.8 310.6 L51.2 310.5 L52.6 309.6 L54 308.8 L55.4 308 L56.8 309.7 L58.2 310.3 L59.6 308.4 L61 308.9 L62.4 308.9 L63.8 307.7 L65.2 305 L66.6 302.5 L68 298.9 L69.4 297.9 L70.8 293.2 L72.2 291.1 L73.7 286.8 L75.1 284.9 L76.5 281.4 L77.9 280.4 L79.3 281.1 L80.7 281.9 L82.1 286.8 L83.5 288.6 L84.9 294 L86.3 298.3 L87.7 301.6 L89.1 304.2 L90.5 307.5 L91.9 308.9 L93.3 309.8 L94.7 310.7 L96.1 310.7 L97.5 311 L98.9 309.4 L100.3 308.3 L101.7 306.1 L103.1 307.9 L104.5 307.6 L105.9 307.3 L107.3 309.8 L108.7 308.7 L110.1 311.4 L111.5 310.1 L112.9 312.4 L114.3 312.8 L115.7 313.4 L117.1 314.3 L118.5 314 L119.9 315.6 L121.3 316.7 L122.7 317.8 L124.1 318.1 L125.5 317.5 L126.9 317.7 L128.3 316.9 L129.7 316.8 L131.1 316.1 L132.5 314.6 L133.9 315.6 L135.3 312 L136.7 310.4 L138.1 308 L139.5 303.4 L140.9 298.9 L142.3 295.1 L143.7 291.2 L145.1 285.9 L146.5 285.4 L147.9 285.5 L149.3 289.9 L150.7 294.1 L152.1 299.3 L153.5 302.6 L154.9 307.3 L156.3 312.3 L157.7 315.4 L159.1 315.8 L160.5 316.8 L161.9 317.4 L163.3 315.8 L164.7 313.5 L166.1 314.9 L167.5 310.8 L168.9 311.8 L170.3 311.2 L171.7 312.7 L173.1 314.6 L174.5 316.2 L175.9 316.1 L177.3 317.7 L178.7 319.2 L180.1 319.1 L181.5 319.9 L182.9 319.9 L184.3 320.9 L185.7 322.6 L187.1 321 L188.5 320.8 L189.9 321.5 L191.3 321.6 L192.7 322.3 L194.1 322.5 L195.5 322.3 L196.9 322.3 L198.3 322.7 L199.7 321.3 L201.1 322 L202.5 322.2 L203.9 321.7 L205.3 323 L206.7 323.1 L208.1 322.9 L209.5 323.2 L210.9 322 L212.3 322.7 L213.7 322.3 L214.9 323.3" fill="none" stroke="#000000" stroke-width="1.6" stroke-linejoin="round"/><line x1="71.2" y1="191" x2="71.2" y2="323.3" stroke="#111" stroke-width="1.25" stroke-dasharray="3 1.2"/><line x1="77.8" y1="191" x2="77.8" y2="323.3" stroke="#111" stroke-width="1.25" stroke-dasharray="3 1.2"/><line x1="94.4" y1="191" x2="94.4" y2="323.3" stroke="#111" stroke-width="1.25" stroke-dasharray="3 1.2"/><line x1="101.7" y1="191" x2="101.7" y2="323.3" stroke="#111" stroke-width="1.25" stroke-dasharray="3 1.2"/><line x1="136.1" y1="191" x2="136.1" y2="323.3" stroke="#111" stroke-width="1.25" stroke-dasharray="3 1.2"/><line x1="145.1" y1="191" x2="145.1" y2="323.3" stroke="#111" stroke-width="1.25" stroke-dasharray="3 1.2"/><line x1="162.1" y1="191" x2="162.1" y2="323.3" stroke="#111" stroke-width="1.25" stroke-dasharray="3 1.2"/><line x1="169.8" y1="191" x2="169.8" y2="323.3" stroke="#111" stroke-width="1.25" stroke-dasharray="3 1.2"/><path d="M37.9 324.5V322.1M37.9 190.2V192.6M49.7 324.5V322.1M49.7 190.2V192.6M61.5 324.5V322.1M61.5 190.2V192.6M73.3 324.5V320.2M73.3 190.2V194.5M85.1 324.5V322.1M85.1 190.2V192.6M96.9 324.5V322.1M96.9 190.2V192.6M108.7 324.5V322.1M108.7 190.2V192.6M120.5 324.5V322.1M120.5 190.2V192.6M132.3 324.5V320.2M132.3 190.2V194.5M144.1 324.5V322.1M144.1 190.2V192.6M155.9 324.5V322.1M155.9 190.2V192.6M167.7 324.5V322.1M167.7 190.2V192.6M179.5 324.5V322.1M179.5 190.2V192.6M191.3 324.5V320.2M191.3 190.2V194.5M203.1 324.5V322.1M203.1 190.2V192.6M26.1 212.6H28.9M214.9 212.6H212.1M26.1 235H28.9M214.9 235H212.1M26.1 257.4H28.9M214.9 257.4H212.1M26.1 279.7H28.9M214.9 279.7H212.1M26.1 302.1H28.9M214.9 302.1H212.1" stroke="#000" stroke-width="1.3" fill="none"/><rect x="26.05" y="190.2" width="188.8" height="134.3" fill="none" stroke="#000" stroke-width="1.5"/><text x="73.3" y="334.7" class="tl">300</text><text x="132.3" y="334.7" class="tl">350</text><text x="191.3" y="334.7" class="tl">400</text><text x="120.5" y="345.3" class="al">Raman Shift (cm<tspan dx="1.2" dy="-4.2" font-size="7.5">-1</tspan><tspan dy="4.2">)</tspan></text><text transform="translate(10.2,257.5) rotate(-90)" class="al">Normalized Intensity</text><text transform="translate(20.2,257.5) rotate(-90)" class="al">(arb. units)</text><text x="77" y="187.9" class="pl">b1</text><text x="100" y="187.9" class="pl">b2</text><text x="142.2" y="187.9" class="pl">b3</text><text x="164.9" y="187.9" class="pl">b4</text><text x="202.4" y="205.8" class="tag">(b)</text><text x="29.9" y="219.1" class="tp">450 °C</text><text x="32.2" y="323.2" class="tp">27 °C</text><path d="M246.1 231.2 L247.5 230.6 L248.9 231.2 L250.3 229.2 L251.7 228.1 L253.1 227.2 L254.5 227.6 L255.9 227.9 L257.3 227.4 L258.7 227.5 L260.1 225.2 L261.4 227.2 L262.8 226.9 L264.2 225.1 L265.6 225.8 L267 225.2 L268.4 223.1 L269.8 224.5 L271.2 224.9 L272.6 223.4 L274 223.4 L275.4 222.2 L276.8 221.6 L278.2 222.1 L279.6 221.3 L281 219.7 L282.4 219.2 L283.8 219.2 L285.2 216.8 L286.6 216.8 L288 214.7 L289.4 211.6 L290.8 211.3 L292.2 209.9 L293.6 208.7 L295 209.6 L296.4 210.1 L297.8 211.1 L299.2 209.9 L300.6 213.1 L302 213.4 L303.4 213.6 L304.8 215.5 L306.2 217 L307.6 217.5 L309 216.7 L310.4 217.7 L311.8 219.4 L313.2 219.9 L314.6 217 L316 219.4 L317.4 215.9 L318.8 218.6 L320.2 218.3 L321.6 218 L323 219.4 L324.4 220.3 L325.8 223.4 L327.2 221.6 L328.6 221.5 L330 222.3 L331.4 224.5 L332.8 225 L334.2 224.6 L335.6 226 L337 226.4 L338.4 226.1 L339.8 228.6 L341.2 228.2 L342.6 227.3 L344 227.9 L345.4 228 L346.8 226.9 L348.2 223.8 L349.6 223.1 L351 223.6 L352.4 222.1 L353.8 220.8 L355.2 221 L356.6 221.3 L358 219.7 L359.4 219.1 L360.8 219.2 L362.2 219.5 L363.6 221.1 L365 221 L366.4 225 L367.8 226.2 L369.2 228.4 L370.6 229 L372 229.4 L373.4 231 L374.8 231.3 L376.2 231.2 L377.6 231.6 L379 232.2 L380.4 231.1 L381.8 231.1 L383.2 230.6 L384.6 232.3 L386 232.7 L387.4 233.5 L388.8 232.3 L390.2 235.1 L391.6 236.1 L393 236.2 L394.4 237.8 L395.8 237.7 L397.2 239 L398.6 240.2 L400 242.3 L401.4 242 L402.8 242.9 L404.2 242.9 L405.6 243.1 L407 242.2 L408.4 243.5 L409.8 242.4 L411.2 241.6 L412.6 242.6 L414 243.5 L415.4 242.8 L416.8 242.6 L418.2 244.4 L419.6 244.2 L421 244.5 L422.4 245.6 L423.8 246.5 L425.2 246.9 L426.6 247.6 L428 248.2 L429.4 247.1 L430.8 248 L432.2 247.3 L433.6 248.9" fill="none" stroke="#ff1493" stroke-width="1.6" stroke-linejoin="round"/><path d="M246.1 241.5 L247.5 241.7 L248.9 242.5 L250.3 241.5 L251.7 240.3 L253.1 240.7 L254.5 240.7 L255.9 238.6 L257.3 238.8 L258.7 240.5 L260.1 238.8 L261.4 238 L262.8 239.7 L264.2 238.5 L265.6 239.6 L267 238.6 L268.4 238.2 L269.8 239 L271.2 237 L272.6 237.4 L274 235.6 L275.4 235.9 L276.8 235.4 L278.2 234.9 L279.6 233.7 L281 234.4 L282.4 232.5 L283.8 231 L285.2 231.1 L286.6 227.5 L288 226 L289.4 223.8 L290.8 221.7 L292.2 218.7 L293.6 220.3 L295 216.9 L296.4 216.6 L297.8 218.4 L299.2 219.6 L300.6 221.2 L302 222.6 L303.4 223 L304.8 225.3 L306.2 226.5 L307.6 229 L309 229.2 L310.4 229.7 L311.8 230.9 L313.2 229.8 L314.6 230 L316 229.3 L317.4 230.3 L318.8 228.8 L320.2 231.7 L321.6 231.5 L323 230.9 L324.4 232.7 L325.8 231.3 L327.2 232.5 L328.6 234.1 L330 234.7 L331.4 237.6 L332.8 236 L334.2 237.3 L335.6 236.8 L337 239.4 L338.4 240.2 L339.8 240.7 L341.2 242.5 L342.6 242.2 L344 240.7 L345.4 242.4 L346.8 239.8 L348.2 240.7 L349.6 240.2 L351 237.8 L352.4 235.6 L353.8 235.8 L355.2 233.3 L356.6 233.7 L358 231.1 L359.4 228.3 L360.8 229 L362.2 225.5 L363.6 229.4 L365 229.3 L366.4 231.4 L367.8 231.2 L369.2 236.6 L370.6 238.6 L372 239.5 L373.4 241.9 L374.8 242.8 L376.2 243.1 L377.6 242.1 L379 241.7 L380.4 240.3 L381.8 239.9 L383.2 237.9 L384.6 236.7 L386 237.8 L387.4 236.2 L388.8 236.8 L390.2 237.5 L391.6 239 L393 241.6 L394.4 241 L395.8 244.3 L397.2 245.4 L398.6 244.1 L400 247.5 L401.4 248.5 L402.8 250 L404.2 251.6 L405.6 250.2 L407 251.2 L408.4 252.4 L409.8 250.8 L411.2 252.5 L412.6 253.4 L414 255.2 L415.4 254.2 L416.8 254.3 L418.2 253.7 L419.6 254.6 L421 255.1 L422.4 254.4 L423.8 257 L425.2 256.7 L426.6 255.5 L428 253.7 L429.4 255.2 L430.8 254.3 L432.2 256.3 L433.6 258.2" fill="none" stroke="#101048" stroke-width="1.6" stroke-linejoin="round"/><path d="M246.1 254.8 L247.5 251.2 L248.9 252.6 L250.3 252 L251.7 250.3 L253.1 250.6 L254.5 250.6 L255.9 249.8 L257.3 249.6 L258.7 249.1 L260.1 248.4 L261.4 248.5 L262.8 247.5 L264.2 248.4 L265.6 246.4 L267 247.4 L268.4 247.3 L269.8 247.3 L271.2 247 L272.6 245.9 L274 246.2 L275.4 246.5 L276.8 246.3 L278.2 245.6 L279.6 245.2 L281 244.7 L282.4 243 L283.8 241.7 L285.2 241.2 L286.6 239.5 L288 238 L289.4 233.4 L290.8 232 L292.2 230.2 L293.6 230.7 L295 226.7 L296.4 225.7 L297.8 227.3 L299.2 224.5 L300.6 226.6 L302 227.9 L303.4 227.5 L304.8 231.2 L306.2 234.1 L307.6 234.2 L309 236.8 L310.4 238.7 L311.8 239.9 L313.2 238.6 L314.6 239.9 L316 239.9 L317.4 240.5 L318.8 240.3 L320.2 239.6 L321.6 240.4 L323 241.3 L324.4 240.1 L325.8 240.6 L327.2 242 L328.6 244.1 L330 243.9 L331.4 245.1 L332.8 247 L334.2 247.7 L335.6 249.3 L337 249.6 L338.4 250 L339.8 250.1 L341.2 250.3 L342.6 252.5 L344 254.3 L345.4 254.5 L346.8 255.3 L348.2 255.3 L349.6 253.8 L351 253.5 L352.4 253 L353.8 251.4 L355.2 246.5 L356.6 245.3 L358 244.1 L359.4 241.2 L360.8 239.4 L362.2 235.9 L363.6 234.3 L365 234.4 L366.4 236.8 L367.8 240.4 L369.2 242.8 L370.6 246.3 L372 248.1 L373.4 250.7 L374.8 255.5 L376.2 253 L377.6 253.1 L379 250.9 L380.4 250.3 L381.8 250 L383.2 248.4 L384.6 246.8 L386 245.7 L387.4 244.9 L388.8 246.4 L390.2 246.4 L391.6 248.9 L393 251.2 L394.4 252.1 L395.8 253.9 L397.2 256.3 L398.6 257.3 L400 258.6 L401.4 260.3 L402.8 260.3 L404.2 262.3 L405.6 259.8 L407 261.4 L408.4 262.4 L409.8 262.2 L411.2 263.1 L412.6 262.5 L414 263.3 L415.4 265 L416.8 263.1 L418.2 263.6 L419.6 263.9 L421 264.4 L422.4 264.5 L423.8 264.6 L425.2 264.5 L426.6 265.4 L428 265.7 L429.4 266.3 L430.8 266 L432.2 267.3 L433.6 265.9" fill="none" stroke="#8b4513" stroke-width="1.6" stroke-linejoin="round"/><path d="M246.1 264.9 L247.5 264.6 L248.9 263.6 L250.3 261.7 L251.7 260.5 L253.1 261 L254.5 259.7 L255.9 259.5 L257.3 260.5 L258.7 259.8 L260.1 259.5 L261.4 257.6 L262.8 259.2 L264.2 258 L265.6 257.9 L267 258.3 L268.4 257 L269.8 258.3 L271.2 258.4 L272.6 257.1 L274 256.1 L275.4 257.2 L276.8 254.7 L278.2 255.2 L279.6 255.5 L281 254.4 L282.4 253.7 L283.8 251.1 L285.2 250.5 L286.6 250.5 L288 245.4 L289.4 245.1 L290.8 242.4 L292.2 240.7 L293.6 239.2 L295 235.8 L296.4 236.2 L297.8 235 L299.2 234.1 L300.6 234.6 L302 236 L303.4 237.8 L304.8 240.4 L306.2 243.1 L307.6 245.3 L309 247.1 L310.4 250.2 L311.8 251.9 L313.2 251.5 L314.6 252.6 L316 253.4 L317.4 250.5 L318.8 250.9 L320.2 250.9 L321.6 251.2 L323 251.6 L324.4 251.7 L325.8 251.4 L327.2 250.9 L328.6 253.6 L330 253.9 L331.4 255.4 L332.8 255.3 L334.2 257.8 L335.6 257.6 L337 257.6 L338.4 260 L339.8 260.7 L341.2 262.2 L342.6 263.2 L344 263.4 L345.4 264.1 L346.8 266.2 L348.2 263.3 L349.6 264.7 L351 264.2 L352.4 261.3 L353.8 261.5 L355.2 260.3 L356.6 258.4 L358 255.7 L359.4 254.9 L360.8 252 L362.2 251 L363.6 247.6 L365 247.7 L366.4 249.3 L367.8 250.5 L369.2 253.1 L370.6 254.5 L372 257.4 L373.4 260.1 L374.8 260.6 L376.2 261.8 L377.6 262.9 L379 262.7 L380.4 262 L381.8 259.6 L383.2 258.5 L384.6 257.7 L386 255.5 L387.4 254.4 L388.8 254.6 L390.2 255.8 L391.6 255.4 L393 258.5 L394.4 260.4 L395.8 263.7 L397.2 266.1 L398.6 265.7 L400 266.1 L401.4 267.3 L402.8 268.6 L404.2 272 L405.6 272.5 L407 272.3 L408.4 271.6 L409.8 271.7 L411.2 271.4 L412.6 272.5 L414 272.8 L415.4 271.2 L416.8 272.8 L418.2 271.9 L419.6 273.6 L421 271.7 L422.4 272.4 L423.8 273.9 L425.2 272.7 L426.6 273.9 L428 275.5 L429.4 272.7 L430.8 276 L432.2 273.3 L433.6 275.3" fill="none" stroke="#4a1a0a" stroke-width="1.6" stroke-linejoin="round"/><path d="M246.1 273.7 L247.5 274.5 L248.9 273.1 L250.3 273.4 L251.7 271.8 L253.1 271.1 L254.5 270.5 L255.9 269.5 L257.3 270 L258.7 270.8 L260.1 269.4 L261.4 269.1 L262.8 270 L264.2 268 L265.6 267.5 L267 268.9 L268.4 266.7 L269.8 267.7 L271.2 267.8 L272.6 267.5 L274 267 L275.4 268.1 L276.8 267.2 L278.2 267.4 L279.6 267.1 L281 265.6 L282.4 265.6 L283.8 263.8 L285.2 263.5 L286.6 259.5 L288 258 L289.4 255.8 L290.8 252 L292.2 250 L293.6 248.6 L295 248 L296.4 244.6 L297.8 244.2 L299.2 243 L300.6 242.8 L302 244.8 L303.4 246.3 L304.8 247.7 L306.2 249.7 L307.6 253.9 L309 254.8 L310.4 258 L311.8 258.9 L313.2 260 L314.6 259.7 L316 259.4 L317.4 260 L318.8 259.6 L320.2 258.8 L321.6 259.5 L323 259.7 L324.4 260.9 L325.8 260.7 L327.2 261.7 L328.6 263.1 L330 262.6 L331.4 264.4 L332.8 266.1 L334.2 266.8 L335.6 268.2 L337 268.9 L338.4 270.5 L339.8 270.7 L341.2 271 L342.6 273.7 L344 275.1 L345.4 274.9 L346.8 275.8 L348.2 274.4 L349.6 276.2 L351 276.1 L352.4 274.2 L353.8 273.2 L355.2 273.4 L356.6 271.1 L358 269.1 L359.4 265.8 L360.8 264.3 L362.2 261.5 L363.6 255.3 L365 256.9 L366.4 257.9 L367.8 258.9 L369.2 261.3 L370.6 264.1 L372 268.9 L373.4 271.3 L374.8 272.7 L376.2 274.5 L377.6 275.3 L379 273.2 L380.4 275 L381.8 272.1 L383.2 270.2 L384.6 269.2 L386 266.3 L387.4 263.6 L388.8 262.4 L390.2 263.8 L391.6 263.5 L393 262.8 L394.4 266.4 L395.8 268.1 L397.2 271.4 L398.6 272 L400 274.9 L401.4 277.7 L402.8 278.8 L404.2 279.6 L405.6 280.7 L407 282 L408.4 283.5 L409.8 281.8 L411.2 284.3 L412.6 283.5 L414 283.5 L415.4 283.1 L416.8 286.1 L418.2 284.2 L419.6 285.2 L421 284.1 L422.4 283.3 L423.8 283.4 L425.2 285.6 L426.6 284.4 L428 285.4 L429.4 284.2 L430.8 285.4 L432.2 284.3 L433.6 285.6" fill="none" stroke="#0000ff" stroke-width="1.6" stroke-linejoin="round"/><path d="M246.1 282.3 L247.5 283.1 L248.9 281.6 L250.3 282.6 L251.7 281.8 L253.1 279.9 L254.5 278.9 L255.9 279.3 L257.3 277.8 L258.7 279.6 L260.1 279.3 L261.4 278.3 L262.8 278 L264.2 276.6 L265.6 275.5 L267 275.1 L268.4 276.4 L269.8 277.6 L271.2 276 L272.6 277.4 L274 278.1 L275.4 278.7 L276.8 277.5 L278.2 278.1 L279.6 276.9 L281 277.9 L282.4 276 L283.8 276.1 L285.2 274.3 L286.6 271.2 L288 270 L289.4 267.3 L290.8 265.9 L292.2 263.6 L293.6 261.3 L295 259.3 L296.4 256.9 L297.8 255.9 L299.2 251.7 L300.6 252.5 L302 253.1 L303.4 253.8 L304.8 255.6 L306.2 257.7 L307.6 261.2 L309 264.5 L310.4 267 L311.8 269.2 L313.2 268.1 L314.6 270.8 L316 271.7 L317.4 271.9 L318.8 270 L320.2 273.2 L321.6 271.9 L323 270 L324.4 269.1 L325.8 269.3 L327.2 270.4 L328.6 269.8 L330 270.9 L331.4 270.9 L332.8 274 L334.2 275.6 L335.6 276.2 L337 277.3 L338.4 278 L339.8 279.5 L341.2 279.6 L342.6 281.1 L344 279.8 L345.4 281.9 L346.8 282.5 L348.2 282.1 L349.6 285.6 L351 283.1 L352.4 283.3 L353.8 283.6 L355.2 282 L356.6 282.5 L358 277.7 L359.4 275.7 L360.8 274.6 L362.2 270.7 L363.6 269 L365 266.1 L366.4 261.2 L367.8 263.5 L369.2 265.9 L370.6 270.1 L372 271 L373.4 275.1 L374.8 278 L376.2 281.2 L377.6 281.9 L379 284.1 L380.4 283.6 L381.8 283.7 L383.2 281.2 L384.6 280.5 L386 278.2 L387.4 275.4 L388.8 273.7 L390.2 273.4 L391.6 270 L393 272.7 L394.4 274.4 L395.8 274.7 L397.2 276.5 L398.6 277.8 L400 280.7 L401.4 281.8 L402.8 284.5 L404.2 286.2 L405.6 287.4 L407 289.8 L408.4 290.2 L409.8 290.6 L411.2 289.6 L412.6 291 L414 292 L415.4 291.2 L416.8 290.3 L418.2 291.2 L419.6 291.3 L421 292.3 L422.4 291.9 L423.8 292.6 L425.2 291.8 L426.6 292.5 L428 293.4 L429.4 293.5 L430.8 292.2 L432.2 293.4 L433.6 293.3" fill="none" stroke="#0a5a0a" stroke-width="1.6" stroke-linejoin="round"/><path d="M246.1 294.9 L247.5 292.1 L248.9 294.1 L250.3 291 L251.7 291.1 L253.1 290.8 L254.5 291.3 L255.9 289.3 L257.3 290.3 L258.7 289.3 L260.1 289.4 L261.4 289.3 L262.8 288.6 L264.2 286.6 L265.6 287.6 L267 285.9 L268.4 287.9 L269.8 287.1 L271.2 286.4 L272.6 287.9 L274 285.9 L275.4 286.9 L276.8 285.8 L278.2 286.2 L279.6 286 L281 285.9 L282.4 285.7 L283.8 285.6 L285.2 282.3 L286.6 282.5 L288 280.1 L289.4 279 L290.8 276.3 L292.2 275.6 L293.6 271.1 L295 270.8 L296.4 268.8 L297.8 264.9 L299.2 262.8 L300.6 261.2 L302 261.3 L303.4 262.4 L304.8 263.8 L306.2 265.8 L307.6 266.4 L309 269.7 L310.4 273.5 L311.8 277.2 L313.2 278.5 L314.6 280 L316 281.9 L317.4 283.1 L318.8 280.5 L320.2 281.2 L321.6 280.4 L323 281.5 L324.4 279.9 L325.8 281.2 L327.2 281.3 L328.6 281.2 L330 281.2 L331.4 283.4 L332.8 282.5 L334.2 283.3 L335.6 285.5 L337 286.9 L338.4 286.8 L339.8 288.2 L341.2 289.5 L342.6 288.7 L344 290.8 L345.4 290.5 L346.8 291.1 L348.2 292.3 L349.6 293.2 L351 293.7 L352.4 292.8 L353.8 293.9 L355.2 293.6 L356.6 291.1 L358 291.6 L359.4 289.2 L360.8 288.2 L362.2 280.7 L363.6 277.3 L365 273.7 L366.4 273.9 L367.8 272.1 L369.2 269.9 L370.6 275.1 L372 277.1 L373.4 282 L374.8 285.5 L376.2 288.2 L377.6 291.5 L379 293.4 L380.4 295.5 L381.8 293.7 L383.2 293.5 L384.6 291 L386 289.7 L387.4 287.1 L388.8 284 L390.2 283.7 L391.6 280.6 L393 282.6 L394.4 281 L395.8 282.8 L397.2 284.5 L398.6 285.8 L400 289.5 L401.4 290.9 L402.8 292.5 L404.2 293.1 L405.6 297.1 L407 296.9 L408.4 296.4 L409.8 298 L411.2 298.5 L412.6 299.3 L414 301.8 L415.4 301.4 L416.8 300.3 L418.2 299.8 L419.6 300.6 L421 299.9 L422.4 299.9 L423.8 301.8 L425.2 302.9 L426.6 301.7 L428 302.4 L429.4 301.6 L430.8 302 L432.2 302.6 L433.6 303.1" fill="none" stroke="#ff8c00" stroke-width="1.6" stroke-linejoin="round"/><path d="M246.1 303.2 L247.5 302 L248.9 301.6 L250.3 300.2 L251.7 301.5 L253.1 300 L254.5 299.9 L255.9 298.9 L257.3 298.4 L258.7 297.4 L260.1 297.3 L261.4 297.5 L262.8 297.7 L264.2 297.2 L265.6 297.1 L267 297.2 L268.4 296.4 L269.8 295.4 L271.2 295.9 L272.6 295.9 L274 295.4 L275.4 297.7 L276.8 296.2 L278.2 295.4 L279.6 295.2 L281 295.2 L282.4 295 L283.8 295.4 L285.2 296.2 L286.6 294.5 L288 293.6 L289.4 292.5 L290.8 292.3 L292.2 289.1 L293.6 288.1 L295 284.6 L296.4 278.4 L297.8 276.2 L299.2 276.2 L300.6 272 L302 270.8 L303.4 269.4 L304.8 271.3 L306.2 274.7 L307.6 277.5 L309 280.9 L310.4 282.9 L311.8 284.5 L313.2 285.9 L314.6 290 L316 289.7 L317.4 291.3 L318.8 292.1 L320.2 290.4 L321.6 289.6 L323 289.7 L324.4 289.5 L325.8 288 L327.2 290 L328.6 289.2 L330 291.3 L331.4 292.2 L332.8 293.1 L334.2 292.3 L335.6 293.9 L337 295.6 L338.4 295.2 L339.8 295.9 L341.2 297.5 L342.6 296.8 L344 297.8 L345.4 300.1 L346.8 302 L348.2 301.5 L349.6 301.8 L351 304.4 L352.4 303.6 L353.8 303.4 L355.2 304.1 L356.6 303.3 L358 301 L359.4 300.4 L360.8 297.9 L362.2 290.8 L363.6 287.2 L365 285.1 L366.4 283.1 L367.8 282.2 L369.2 280 L370.6 278.5 L372 283.6 L373.4 285.5 L374.8 289.4 L376.2 293.4 L377.6 296.6 L379 300.2 L380.4 302.5 L381.8 302.2 L383.2 302.6 L384.6 302.5 L386 301.2 L387.4 297.8 L388.8 295.6 L390.2 294.2 L391.6 290.7 L393 291.1 L394.4 291.3 L395.8 292.3 L397.2 295.5 L398.6 296.1 L400 299.1 L401.4 300.9 L402.8 303.2 L404.2 304.2 L405.6 305.1 L407 306.2 L408.4 307.3 L409.8 306.4 L411.2 309.4 L412.6 309.8 L414 308.4 L415.4 309.3 L416.8 310.2 L418.2 310.7 L419.6 309.8 L421 309.6 L422.4 310.6 L423.8 309.1 L425.2 310.1 L426.6 310 L428 309 L429.4 311.1 L430.8 311.3 L432.2 310.3 L433.6 310.2" fill="none" stroke="#ff0000" stroke-width="1.6" stroke-linejoin="round"/><path d="M246.1 312.8 L247.5 310.4 L248.9 312 L250.3 311.9 L251.7 311 L253.1 310.1 L254.5 309 L255.9 308.4 L257.3 310 L258.7 309.4 L260.1 309.1 L261.4 308.4 L262.8 309 L264.2 307.8 L265.6 307.4 L267 306.1 L268.4 306.6 L269.8 305.4 L271.2 304.3 L272.6 303.7 L274 305.7 L275.4 304.6 L276.8 305.8 L278.2 306.8 L279.6 307.3 L281 308 L282.4 305.7 L283.8 307.6 L285.2 307.2 L286.6 305.5 L288 306.6 L289.4 307 L290.8 303.3 L292.2 304.1 L293.6 302.1 L295 298.3 L296.4 293.7 L297.8 288.7 L299.2 288.9 L300.6 286.1 L302 281.6 L303.4 279 L304.8 278.9 L306.2 281.3 L307.6 283.8 L309 288.3 L310.4 291.6 L311.8 296.5 L313.2 296.2 L314.6 300 L316 300.4 L317.4 303.3 L318.8 303.6 L320.2 303.2 L321.6 303.4 L323 302.2 L324.4 302.9 L325.8 300.7 L327.2 300.3 L328.6 299.8 L330 301.5 L331.4 301.2 L332.8 301 L334.2 303.7 L335.6 303.4 L337 303.5 L338.4 305.8 L339.8 307.4 L341.2 308.2 L342.6 308.7 L344 308.9 L345.4 309.7 L346.8 310.9 L348.2 312.1 L349.6 312.2 L351 312.7 L352.4 313.4 L353.8 315.4 L355.2 314.5 L356.6 313.9 L358 313.9 L359.4 312 L360.8 309.8 L362.2 307.8 L363.6 301.9 L365 299.8 L366.4 294.4 L367.8 291 L369.2 289.7 L370.6 288.2 L372 292.2 L373.4 294.6 L374.8 297.3 L376.2 301 L377.6 306.4 L379 307.4 L380.4 309.2 L381.8 312.1 L383.2 314.9 L384.6 312.9 L386 312.2 L387.4 311.2 L388.8 308.5 L390.2 305.5 L391.6 303.2 L393 299.4 L394.4 298.9 L395.8 298.1 L397.2 299 L398.6 302.8 L400 304.9 L401.4 307.6 L402.8 308.6 L404.2 310 L405.6 312.6 L407 313.3 L408.4 314.7 L409.8 316.1 L411.2 317.3 L412.6 317.3 L414 319 L415.4 320.1 L416.8 318.8 L418.2 317.8 L419.6 318.9 L421 317.8 L422.4 319.8 L423.8 317.9 L425.2 319 L426.6 318.4 L428 318.5 L429.4 317.7 L430.8 319.1 L432.2 318.1 L433.6 318.3" fill="none" stroke="#000000" stroke-width="1.6" stroke-linejoin="round"/><line x1="296.2" y1="191" x2="296.2" y2="322.6" stroke="#111" stroke-width="1.25" stroke-dasharray="3 1.2"/><line x1="304.2" y1="191" x2="304.2" y2="322.6" stroke="#111" stroke-width="1.25" stroke-dasharray="3 1.2"/><line x1="321.7" y1="191" x2="321.7" y2="322.6" stroke="#111" stroke-width="1.25" stroke-dasharray="3 1.2"/><line x1="331.6" y1="191" x2="331.6" y2="322.6" stroke="#111" stroke-width="1.25" stroke-dasharray="3 1.2"/><line x1="358.6" y1="191" x2="358.6" y2="322.6" stroke="#111" stroke-width="1.25" stroke-dasharray="3 1.2"/><line x1="370.9" y1="191" x2="370.9" y2="322.6" stroke="#111" stroke-width="1.25" stroke-dasharray="3 1.2"/><line x1="385.8" y1="191" x2="385.8" y2="322.6" stroke="#111" stroke-width="1.25" stroke-dasharray="3 1.2"/><line x1="395.0" y1="191" x2="395.0" y2="322.6" stroke="#111" stroke-width="1.25" stroke-dasharray="3 1.2"/><path d="M257.8 323.8V321.4M257.8 190.2V192.6M269.5 323.8V321.4M269.5 190.2V192.6M281.2 323.8V321.4M281.2 190.2V192.6M292.9 323.8V319.5M292.9 190.2V194.5M304.7 323.8V321.4M304.7 190.2V192.6M316.4 323.8V321.4M316.4 190.2V192.6M328.1 323.8V321.4M328.1 190.2V192.6M339.8 323.8V321.4M339.8 190.2V192.6M351.5 323.8V319.5M351.5 190.2V194.5M363.3 323.8V321.4M363.3 190.2V192.6M375 323.8V321.4M375 190.2V192.6M386.7 323.8V321.4M386.7 190.2V192.6M398.4 323.8V321.4M398.4 190.2V192.6M410.2 323.8V319.5M410.2 190.2V194.5M421.9 323.8V321.4M421.9 190.2V192.6M246.1 212.5H248.9M433.6 212.5H430.8M246.1 234.7H248.9M433.6 234.7H430.8M246.1 257H248.9M433.6 257H430.8M246.1 279.3H248.9M433.6 279.3H430.8M246.1 301.5H248.9M433.6 301.5H430.8" stroke="#000" stroke-width="1.3" fill="none"/><rect x="246.05" y="190.2" width="187.6" height="133.6" fill="none" stroke="#000" stroke-width="1.5"/><text x="292.9" y="334" class="tl">300</text><text x="351.5" y="334" class="tl">350</text><text x="410.2" y="334" class="tl">400</text><text x="339.8" y="344.6" class="al">Raman Shift (cm<tspan dx="1.2" dy="-4.2" font-size="7.5">-1</tspan><tspan dy="4.2">)</tspan></text><text transform="translate(230.2,257.1) rotate(-90)" class="al">Normalized Intensity</text><text transform="translate(240.2,257.1) rotate(-90)" class="al">(arb. units)</text><text x="300.4" y="187.9" class="pl">c1</text><text x="327.6" y="187.9" class="pl">c2</text><text x="363.5" y="187.9" class="pl">c3</text><text x="390" y="187.9" class="pl">c4</text><text x="422" y="205.8" class="tag">(c)</text><text x="250.1" y="218.2" class="tp">450 °C</text><text x="252.9" y="321.9" class="tp">27 °C</text><path d="M26.1 407.5 L27.4 407.5 L28.8 408.8 L30.2 406.7 L31.6 406.1 L33 404.8 L34.4 405.4 L35.8 405 L37.2 405 L38.6 403.3 L40 404.8 L41.4 405.4 L42.8 403.6 L44.2 402.9 L45.6 403.1 L47 401.8 L48.4 402.8 L49.8 402 L51.2 400.3 L52.6 400.7 L54 401.8 L55.4 400.4 L56.8 397.5 L58.2 399.4 L59.6 398.3 L61 398.6 L62.4 397.9 L63.8 397.1 L65.2 396.2 L66.6 397.5 L68 396.7 L69.4 395.7 L70.8 394.4 L72.2 389.9 L73.7 389.5 L75.1 386.9 L76.5 384.6 L77.9 385.3 L79.3 382.3 L80.7 383.3 L82.1 383.3 L83.5 382.6 L84.9 383.4 L86.3 383.4 L87.7 384 L89.1 385.7 L90.5 387.3 L91.9 385.8 L93.3 386.1 L94.7 387.1 L96.1 387.5 L97.5 388.1 L98.9 388.3 L100.3 389.3 L101.7 388.7 L103.1 387.6 L104.5 390.9 L105.9 389.6 L107.3 390.8 L108.7 391.2 L110.1 392.9 L111.5 394 L112.9 395.1 L114.3 396 L115.7 397.3 L117.1 397.1 L118.5 397.2 L119.9 400 L121.3 400.4 L122.7 402.7 L124.1 401.9 L125.5 402 L126.9 403.2 L128.3 404.5 L129.7 404.1 L131.1 403.5 L132.5 403.2 L133.9 401.6 L135.3 403.4 L136.7 401.9 L138.1 400.7 L139.5 400.3 L140.9 400.1 L142.3 399.3 L143.7 400.6 L145.1 400.9 L146.5 400.4 L147.9 400.5 L149.3 401.3 L150.7 402.1 L152.1 403.5 L153.5 403.7 L154.9 404.1 L156.3 404.2 L157.7 403.6 L159.1 403.1 L160.5 403.4 L161.9 401.8 L163.3 400.9 L164.7 399.2 L166.1 399.8 L167.5 397.9 L168.9 397.7 L170.3 397.6 L171.7 397.2 L173.1 400.2 L174.5 399.9 L175.9 400.2 L177.3 403.4 L178.7 404.1 L180.1 405.1 L181.5 406.9 L182.9 409.1 L184.3 411.4 L185.7 411.3 L187.1 413.3 L188.5 416 L189.9 414.8 L191.3 417.6 L192.7 418.4 L194.1 420 L195.5 418.9 L196.9 420 L198.3 419.4 L199.7 419.6 L201.1 419.4 L202.5 421.3 L203.9 419.5 L205.3 421.5 L206.7 421.9 L208.1 420.5 L209.5 423.7 L210.9 420.5 L212.3 421.9 L213.7 422.8 L214.7 423.6" fill="none" stroke="#ff1493" stroke-width="1.6" stroke-linejoin="round"/><path d="M26.1 418.1 L27.4 419.8 L28.8 419 L30.2 418.5 L31.6 416.7 L33 416.2 L34.4 417.9 L35.8 417.6 L37.2 416.3 L38.6 415.3 L40 414.9 L41.4 415.6 L42.8 414.7 L44.2 413.4 L45.6 412.4 L47 413.9 L48.4 412.6 L49.8 413.3 L51.2 413.4 L52.6 412.5 L54 413.2 L55.4 411.7 L56.8 409.9 L58.2 411.8 L59.6 411 L61 412.2 L62.4 410.5 L63.8 409.6 L65.2 410.4 L66.6 409.3 L68 407.2 L69.4 406 L70.8 404.8 L72.2 402.3 L73.7 400.3 L75.1 398.9 L76.5 398.1 L77.9 395.6 L79.3 393.5 L80.7 393.1 L82.1 393.2 L83.5 393.9 L84.9 390.3 L86.3 393 L87.7 394.1 L89.1 394 L90.5 396.1 L91.9 395.6 L93.3 398.2 L94.7 397.4 L96.1 398.4 L97.5 398.5 L98.9 399.5 L100.3 398.5 L101.7 400.1 L103.1 399.7 L104.5 400.9 L105.9 399.9 L107.3 400.5 L108.7 401.4 L110.1 403.4 L111.5 402.7 L112.9 404.7 L114.3 405.8 L115.7 406.4 L117.1 409.9 L118.5 410 L119.9 411.1 L121.3 412.5 L122.7 413.5 L124.1 414.2 L125.5 414.4 L126.9 414.5 L128.3 416.7 L129.7 415.8 L131.1 416.9 L132.5 414.7 L133.9 415.6 L135.3 415 L136.7 413.3 L138.1 410.5 L139.5 411.3 L140.9 410.4 L142.3 409.7 L143.7 409.3 L145.1 411.2 L146.5 407.4 L147.9 410.2 L149.3 409.7 L150.7 411.4 L152.1 413.4 L153.5 412.4 L154.9 414.3 L156.3 413.5 L157.7 412.8 L159.1 412.2 L160.5 410.4 L161.9 410.8 L163.3 409.6 L164.7 407.8 L166.1 408.2 L167.5 407.8 L168.9 406.8 L170.3 406.6 L171.7 405.6 L173.1 408 L174.5 408.3 L175.9 408.6 L177.3 409.9 L178.7 411.7 L180.1 415.4 L181.5 416.8 L182.9 418 L184.3 418.7 L185.7 422.3 L187.1 422 L188.5 422.8 L189.9 425.2 L191.3 426.3 L192.7 426.4 L194.1 426.5 L195.5 425.9 L196.9 427.8 L198.3 429.9 L199.7 428 L201.1 429.4 L202.5 429.1 L203.9 430 L205.3 428.7 L206.7 430 L208.1 430.9 L209.5 429.6 L210.9 429.4 L212.3 430.8 L213.7 431.2 L214.7 430.8" fill="none" stroke="#101048" stroke-width="1.6" stroke-linejoin="round"/><path d="M26.1 427.7 L27.4 427.6 L28.8 428.6 L30.2 426.6 L31.6 427.6 L33 425.3 L34.4 424.6 L35.8 423.3 L37.2 423.6 L38.6 424.9 L40 423.6 L41.4 422.7 L42.8 424.4 L44.2 422.4 L45.6 422.7 L47 422.4 L48.4 421.3 L49.8 421.2 L51.2 422.8 L52.6 422.8 L54 422.3 L55.4 421.1 L56.8 422.1 L58.2 420 L59.6 419.6 L61 419.1 L62.4 419.1 L63.8 416.6 L65.2 416.8 L66.6 416.5 L68 416.2 L69.4 413.9 L70.8 413.5 L72.2 412.1 L73.7 411.1 L75.1 408.2 L76.5 407.9 L77.9 405.4 L79.3 404.1 L80.7 403.8 L82.1 403.2 L83.5 401.2 L84.9 401.4 L86.3 402.3 L87.7 402.7 L89.1 403 L90.5 405.3 L91.9 404.9 L93.3 405.1 L94.7 404.3 L96.1 406.5 L97.5 407.3 L98.9 408.5 L100.3 408.7 L101.7 409.8 L103.1 408.4 L104.5 410.4 L105.9 410.5 L107.3 409.8 L108.7 411.7 L110.1 411.7 L111.5 413.7 L112.9 415.3 L114.3 414 L115.7 416.9 L117.1 419.6 L118.5 419.4 L119.9 419.6 L121.3 419.4 L122.7 421.3 L124.1 422.7 L125.5 425.2 L126.9 425.4 L128.3 425.1 L129.7 426.9 L131.1 426.2 L132.5 426.5 L133.9 425.6 L135.3 424.6 L136.7 424 L138.1 422.2 L139.5 421.7 L140.9 421 L142.3 419.7 L143.7 419.3 L145.1 420.9 L146.5 419.1 L147.9 419.3 L149.3 419.5 L150.7 420.2 L152.1 421.8 L153.5 422.3 L154.9 423.6 L156.3 423.6 L157.7 423 L159.1 422.3 L160.5 422.1 L161.9 421.7 L163.3 420.8 L164.7 418.7 L166.1 418.2 L167.5 417.8 L168.9 415.5 L170.3 414.9 L171.7 415.1 L173.1 415.7 L174.5 417.4 L175.9 416 L177.3 417.9 L178.7 422 L180.1 422.6 L181.5 425.6 L182.9 426.7 L184.3 430 L185.7 431.2 L187.1 431.3 L188.5 432.3 L189.9 433.9 L191.3 434.9 L192.7 435.3 L194.1 436.4 L195.5 435.8 L196.9 437.9 L198.3 438.1 L199.7 439.1 L201.1 437.7 L202.5 437.6 L203.9 437.3 L205.3 438.8 L206.7 439 L208.1 437.2 L209.5 439.2 L210.9 441.1 L212.3 439.4 L213.7 440.5 L214.7 440.8" fill="none" stroke="#8a8a00" stroke-width="1.6" stroke-linejoin="round"/><path d="M26.1 438.7 L27.4 437.9 L28.8 437.7 L30.2 437.3 L31.6 435.4 L33 435.7 L34.4 435.6 L35.8 435.5 L37.2 436.3 L38.6 434.2 L40 436.2 L41.4 432.9 L42.8 433.4 L44.2 432.6 L45.6 432.2 L47 430.9 L48.4 431 L49.8 432.1 L51.2 432.1 L52.6 431.3 L54 432.5 L55.4 431.6 L56.8 432.5 L58.2 431.7 L59.6 431 L61 430.2 L62.4 429.2 L63.8 430.4 L65.2 427.8 L66.6 426.9 L68 425.6 L69.4 425.9 L70.8 424.4 L72.2 422 L73.7 419 L75.1 417.2 L76.5 416.3 L77.9 414.5 L79.3 414.1 L80.7 413.1 L82.1 410.7 L83.5 411 L84.9 409.4 L86.3 410.4 L87.7 412.2 L89.1 413.6 L90.5 414.1 L91.9 413.6 L93.3 416.1 L94.7 417 L96.1 417.1 L97.5 418.7 L98.9 418.7 L100.3 418.3 L101.7 417.4 L103.1 419.2 L104.5 418.9 L105.9 419 L107.3 418.9 L108.7 420 L110.1 422 L111.5 421.9 L112.9 424 L114.3 424 L115.7 425.2 L117.1 427.5 L118.5 427.9 L119.9 429.8 L121.3 431 L122.7 431.1 L124.1 431.2 L125.5 433.5 L126.9 434.1 L128.3 434.1 L129.7 434.5 L131.1 435.9 L132.5 436.3 L133.9 437.5 L135.3 434.4 L136.7 433.9 L138.1 434 L139.5 432 L140.9 430.1 L142.3 427.8 L143.7 427.8 L145.1 429.5 L146.5 427.5 L147.9 428.8 L149.3 429.3 L150.7 429.4 L152.1 430.4 L153.5 431.6 L154.9 434.5 L156.3 433.1 L157.7 433.4 L159.1 431.3 L160.5 431.3 L161.9 430.9 L163.3 428.6 L164.7 426.6 L166.1 427.1 L167.5 425 L168.9 423.6 L170.3 423.2 L171.7 422.8 L173.1 421.8 L174.5 422.1 L175.9 422.1 L177.3 423.6 L178.7 425.3 L180.1 427.1 L181.5 427.6 L182.9 432.6 L184.3 434.3 L185.7 437.7 L187.1 440.8 L188.5 442.6 L189.9 444.1 L191.3 445.2 L192.7 446.1 L194.1 447.2 L195.5 446.1 L196.9 446.9 L198.3 448.8 L199.7 447.9 L201.1 446.8 L202.5 448.6 L203.9 448.1 L205.3 447.9 L206.7 447.9 L208.1 448 L209.5 447.7 L210.9 447.6 L212.3 449.6 L213.7 448.5 L214.7 447.3" fill="none" stroke="#8b1a1a" stroke-width="1.6" stroke-linejoin="round"/><path d="M26.1 448.3 L27.4 447.9 L28.8 449.5 L30.2 447.4 L31.6 446.7 L33 445.7 L34.4 446.5 L35.8 444.2 L37.2 445.8 L38.6 444 L40 444.4 L41.4 443.3 L42.8 444.3 L44.2 442.5 L45.6 441.2 L47 443.2 L48.4 441.6 L49.8 441.1 L51.2 441.6 L52.6 442.2 L54 442.1 L55.4 440.9 L56.8 441.1 L58.2 440.5 L59.6 441.1 L61 440.4 L62.4 440.9 L63.8 439.7 L65.2 440.5 L66.6 440.1 L68 438.6 L69.4 436.1 L70.8 435.7 L72.2 433.2 L73.7 429.2 L75.1 428.1 L76.5 423.6 L77.9 423.3 L79.3 421.5 L80.7 421.5 L82.1 419.9 L83.5 419.5 L84.9 419.7 L86.3 419.3 L87.7 419 L89.1 419.8 L90.5 421.8 L91.9 423.7 L93.3 422.5 L94.7 424.8 L96.1 424.9 L97.5 426 L98.9 426 L100.3 426.8 L101.7 427.3 L103.1 427.7 L104.5 428.1 L105.9 426.9 L107.3 429.1 L108.7 428.8 L110.1 430.3 L111.5 430.8 L112.9 431.4 L114.3 431.8 L115.7 434.9 L117.1 432.9 L118.5 435.1 L119.9 437 L121.3 437.1 L122.7 439.3 L124.1 440 L125.5 442.1 L126.9 442.2 L128.3 443.4 L129.7 445.1 L131.1 446.9 L132.5 446.9 L133.9 445.6 L135.3 445 L136.7 446.1 L138.1 445.8 L139.5 443.9 L140.9 442.7 L142.3 443.5 L143.7 440.1 L145.1 439.8 L146.5 436.4 L147.9 437.8 L149.3 439.3 L150.7 437.4 L152.1 438.4 L153.5 439.6 L154.9 440.2 L156.3 442.1 L157.7 441.6 L159.1 442.9 L160.5 442 L161.9 444.2 L163.3 441.9 L164.7 441.7 L166.1 441 L167.5 440 L168.9 437.8 L170.3 434.4 L171.7 432.5 L173.1 431.7 L174.5 433.3 L175.9 433.1 L177.3 432.9 L178.7 434.2 L180.1 435.5 L181.5 437.1 L182.9 442.2 L184.3 443.6 L185.7 448.6 L187.1 452 L188.5 454.2 L189.9 454.2 L191.3 453.4 L192.7 454.4 L194.1 455.4 L195.5 455.2 L196.9 456.7 L198.3 456.3 L199.7 457.9 L201.1 456.4 L202.5 456.4 L203.9 457.8 L205.3 458 L206.7 458 L208.1 457.6 L209.5 458.4 L210.9 459 L212.3 458.9 L213.7 461.2 L214.7 459.1" fill="none" stroke="#0000ff" stroke-width="1.6" stroke-linejoin="round"/><path d="M26.1 457.1 L27.4 455.3 L28.8 455 L30.2 455.2 L31.6 453.5 L33 454.9 L34.4 454.4 L35.8 453.3 L37.2 452.1 L38.6 453.6 L40 451.6 L41.4 451.5 L42.8 450.2 L44.2 452.2 L45.6 448.4 L47 450.5 L48.4 449.3 L49.8 449.3 L51.2 450.7 L52.6 450.8 L54 449.7 L55.4 449.6 L56.8 450.9 L58.2 449.5 L59.6 448.5 L61 448.6 L62.4 449.4 L63.8 449.7 L65.2 448.5 L66.6 448.4 L68 445.1 L69.4 445.9 L70.8 444.6 L72.2 443.3 L73.7 440.5 L75.1 440.3 L76.5 438.2 L77.9 437.2 L79.3 436.4 L80.7 432.4 L82.1 429.7 L83.5 427.5 L84.9 428.7 L86.3 429.4 L87.7 428.2 L89.1 430.3 L90.5 431 L91.9 431.8 L93.3 432.6 L94.7 432.9 L96.1 433.3 L97.5 434.7 L98.9 435.8 L100.3 436.5 L101.7 437.3 L103.1 436.9 L104.5 437.9 L105.9 437.2 L107.3 438.2 L108.7 437.2 L110.1 439.3 L111.5 438.1 L112.9 440.2 L114.3 441.7 L115.7 442.4 L117.1 443.5 L118.5 445.2 L119.9 446 L121.3 448 L122.7 448.2 L124.1 448.9 L125.5 450.4 L126.9 453.9 L128.3 453.4 L129.7 454.7 L131.1 455.3 L132.5 456.4 L133.9 455.8 L135.3 456.1 L136.7 455 L138.1 455.7 L139.5 453.9 L140.9 453 L142.3 453.3 L143.7 451 L145.1 449.2 L146.5 449.3 L147.9 446.5 L149.3 448.6 L150.7 448.7 L152.1 447.8 L153.5 447.7 L154.9 448.6 L156.3 450.1 L157.7 451.9 L159.1 453.4 L160.5 451.3 L161.9 453.8 L163.3 452.7 L164.7 451.3 L166.1 450.8 L167.5 448.9 L168.9 449.2 L170.3 444.6 L171.7 441.8 L173.1 442.4 L174.5 439.5 L175.9 439.1 L177.3 439.9 L178.7 439.8 L180.1 442.3 L181.5 445.1 L182.9 448.3 L184.3 451.3 L185.7 455 L187.1 457.1 L188.5 460.4 L189.9 462.3 L191.3 462.4 L192.7 464.1 L194.1 465.1 L195.5 464.7 L196.9 464.1 L198.3 465.8 L199.7 465.9 L201.1 464.8 L202.5 466.2 L203.9 466.8 L205.3 466.4 L206.7 466.3 L208.1 466.7 L209.5 467.4 L210.9 467.8 L212.3 467.6 L213.7 466.5 L214.7 468.6" fill="none" stroke="#0a5a0a" stroke-width="1.6" stroke-linejoin="round"/><path d="M26.1 467.1 L27.4 466.7 L28.8 466 L30.2 462.4 L31.6 463.3 L33 462.6 L34.4 462.4 L35.8 461.9 L37.2 460.3 L38.6 462 L40 461.2 L41.4 460.8 L42.8 458.8 L44.2 458.6 L45.6 460.2 L47 459.6 L48.4 459 L49.8 459.4 L51.2 458.7 L52.6 458.3 L54 458 L55.4 459.6 L56.8 458.8 L58.2 457.3 L59.6 458.7 L61 457 L62.4 458.5 L63.8 456.8 L65.2 457 L66.6 456.6 L68 453.7 L69.4 453.8 L70.8 452.7 L72.2 451.3 L73.7 449.1 L75.1 446.1 L76.5 446.8 L77.9 443.7 L79.3 443.8 L80.7 439.9 L82.1 440.6 L83.5 439.4 L84.9 438 L86.3 437.5 L87.7 438.6 L89.1 439.8 L90.5 440.7 L91.9 440.5 L93.3 441.1 L94.7 443.4 L96.1 444 L97.5 444.3 L98.9 443.6 L100.3 444.1 L101.7 444.7 L103.1 445.2 L104.5 447.5 L105.9 446.1 L107.3 445.3 L108.7 447.6 L110.1 446.9 L111.5 448.2 L112.9 448.5 L114.3 450 L115.7 451 L117.1 452.4 L118.5 453.2 L119.9 454.2 L121.3 455 L122.7 455.2 L124.1 457.3 L125.5 458.7 L126.9 461.7 L128.3 460.9 L129.7 462 L131.1 462.7 L132.5 463 L133.9 461.4 L135.3 463 L136.7 461.6 L138.1 461.2 L139.5 461.4 L140.9 457.9 L142.3 457.9 L143.7 456.7 L145.1 456.1 L146.5 456.5 L147.9 456.7 L149.3 456.5 L150.7 456.6 L152.1 457.9 L153.5 456.8 L154.9 459.3 L156.3 459 L157.7 459.2 L159.1 459.9 L160.5 460.6 L161.9 458.7 L163.3 459.2 L164.7 457.6 L166.1 455 L167.5 453.7 L168.9 454.8 L170.3 452.7 L171.7 451.8 L173.1 450.8 L174.5 449.5 L175.9 451.4 L177.3 448.3 L178.7 451.3 L180.1 455.6 L181.5 456.6 L182.9 459.4 L184.3 462.1 L185.7 465.8 L187.1 467.4 L188.5 470.6 L189.9 471.2 L191.3 472.8 L192.7 473.7 L194.1 475.1 L195.5 473.6 L196.9 474.1 L198.3 475.4 L199.7 474.7 L201.1 476.3 L202.5 476.1 L203.9 474.8 L205.3 475.4 L206.7 475.1 L208.1 475.9 L209.5 476.7 L210.9 477 L212.3 477.1 L213.7 476.4 L214.7 475.1" fill="none" stroke="#ff8c00" stroke-width="1.6" stroke-linejoin="round"/><path d="M26.1 476.7 L27.4 476.7 L28.8 474.6 L30.2 474.4 L31.6 474.5 L33 472.7 L34.4 473.8 L35.8 474.6 L37.2 469.4 L38.6 470.4 L40 469.6 L41.4 468.9 L42.8 470 L44.2 469.5 L45.6 468.2 L47 469.4 L48.4 468.1 L49.8 468.4 L51.2 468.5 L52.6 467.3 L54 468.8 L55.4 467.8 L56.8 468.6 L58.2 467.6 L59.6 468.4 L61 467.9 L62.4 468.6 L63.8 467.3 L65.2 466.7 L66.6 467.6 L68 466.7 L69.4 465 L70.8 463.1 L72.2 461.3 L73.7 459.3 L75.1 457.9 L76.5 455.8 L77.9 453.6 L79.3 453.7 L80.7 450.6 L82.1 448.7 L83.5 448.5 L84.9 443.9 L86.3 446 L87.7 446.3 L89.1 446.4 L90.5 446.5 L91.9 448.6 L93.3 449.1 L94.7 450.7 L96.1 451.1 L97.5 452.1 L98.9 452.5 L100.3 453.6 L101.7 455 L103.1 453.2 L104.5 456.6 L105.9 455.3 L107.3 456.7 L108.7 455.9 L110.1 455.9 L111.5 455.7 L112.9 456.8 L114.3 458.3 L115.7 459.4 L117.1 461.4 L118.5 463.6 L119.9 464.3 L121.3 463.5 L122.7 465.7 L124.1 467 L125.5 469.2 L126.9 470.5 L128.3 471 L129.7 473.1 L131.1 472 L132.5 472.8 L133.9 472.9 L135.3 473.3 L136.7 474.5 L138.1 472.2 L139.5 472.5 L140.9 470.6 L142.3 469.2 L143.7 467.7 L145.1 465.8 L146.5 464.6 L147.9 464.1 L149.3 463.8 L150.7 463.2 L152.1 463.5 L153.5 464.9 L154.9 465.8 L156.3 468.3 L157.7 468.6 L159.1 468.4 L160.5 469.5 L161.9 470 L163.3 470.4 L164.7 467.2 L166.1 466.9 L167.5 467.4 L168.9 466.4 L170.3 465.6 L171.7 462.3 L173.1 459.4 L174.5 455.7 L175.9 455.2 L177.3 453 L178.7 453.8 L180.1 457.1 L181.5 460.7 L182.9 465.5 L184.3 469.4 L185.7 471.2 L187.1 474.1 L188.5 475.6 L189.9 476.1 L191.3 479.7 L192.7 481.8 L194.1 481.3 L195.5 483.1 L196.9 482.7 L198.3 483.2 L199.7 482.1 L201.1 484 L202.5 485.4 L203.9 484.3 L205.3 484.4 L206.7 485.9 L208.1 486.2 L209.5 486.1 L210.9 485.9 L212.3 486.5 L213.7 485.2 L214.7 485" fill="none" stroke="#ff0000" stroke-width="1.6" stroke-linejoin="round"/><path d="M26.1 485.5 L27.4 485.3 L28.8 483.5 L30.2 483.9 L31.6 483.6 L33 482.7 L34.4 482.2 L35.8 480.6 L37.2 480.8 L38.6 481.6 L40 482.1 L41.4 480.1 L42.8 478.6 L44.2 478.8 L45.6 479.3 L47 478.3 L48.4 479 L49.8 477.6 L51.2 478.4 L52.6 478.5 L54 477.8 L55.4 477.9 L56.8 477.1 L58.2 476.8 L59.6 477.5 L61 475.8 L62.4 476.1 L63.8 478.2 L65.2 477.1 L66.6 476.5 L68 476.9 L69.4 474.3 L70.8 474.1 L72.2 472.7 L73.7 469.4 L75.1 470.7 L76.5 468.4 L77.9 464.3 L79.3 462.8 L80.7 458.9 L82.1 459.4 L83.5 457.1 L84.9 456.6 L86.3 456.3 L87.7 455.5 L89.1 455.2 L90.5 456.7 L91.9 456.7 L93.3 458.6 L94.7 458.1 L96.1 461.4 L97.5 460.1 L98.9 461.9 L100.3 464.2 L101.7 465 L103.1 466.3 L104.5 463.5 L105.9 464.4 L107.3 464.5 L108.7 466.3 L110.1 466.2 L111.5 465.9 L112.9 466.9 L114.3 467.9 L115.7 469 L117.1 470.6 L118.5 471 L119.9 473.1 L121.3 472.8 L122.7 475.7 L124.1 476.6 L125.5 477.2 L126.9 477.7 L128.3 480 L129.7 481.2 L131.1 482.2 L132.5 482.8 L133.9 484.2 L135.3 482.5 L136.7 483.1 L138.1 481.8 L139.5 480.9 L140.9 480.6 L142.3 478.2 L143.7 478.6 L145.1 476.5 L146.5 474.9 L147.9 472.8 L149.3 473.6 L150.7 472.8 L152.1 472.6 L153.5 473.8 L154.9 475.8 L156.3 476.2 L157.7 476 L159.1 479.3 L160.5 477.2 L161.9 478 L163.3 478.1 L164.7 479 L166.1 479.1 L167.5 477.2 L168.9 476.5 L170.3 474.2 L171.7 473.1 L173.1 470.9 L174.5 467.5 L175.9 466.1 L177.3 467.3 L178.7 468.2 L180.1 469.2 L181.5 469.8 L182.9 471.4 L184.3 475 L185.7 478.2 L187.1 480.3 L188.5 481.7 L189.9 483.9 L191.3 486.7 L192.7 488.9 L194.1 489.3 L195.5 489.5 L196.9 492.3 L198.3 493.2 L199.7 492.9 L201.1 492.6 L202.5 492.8 L203.9 495 L205.3 492.7 L206.7 493.6 L208.1 493.7 L209.5 494.3 L210.9 494.4 L212.3 494.5 L213.7 494.4 L214.7 495.8" fill="none" stroke="#000000" stroke-width="1.6" stroke-linejoin="round"/><line x1="80.9" y1="366" x2="80.9" y2="498.5" stroke="#111" stroke-width="1.25" stroke-dasharray="3 1.2"/><line x1="88.9" y1="366" x2="88.9" y2="498.5" stroke="#111" stroke-width="1.25" stroke-dasharray="3 1.2"/><line x1="104.3" y1="366" x2="104.3" y2="498.5" stroke="#111" stroke-width="1.25" stroke-dasharray="3 1.2"/><line x1="113.3" y1="366" x2="113.3" y2="498.5" stroke="#111" stroke-width="1.25" stroke-dasharray="3 1.2"/><line x1="141.9" y1="366" x2="141.9" y2="498.5" stroke="#111" stroke-width="1.25" stroke-dasharray="3 1.2"/><line x1="150.6" y1="366" x2="150.6" y2="498.5" stroke="#111" stroke-width="1.25" stroke-dasharray="3 1.2"/><line x1="169.8" y1="366" x2="169.8" y2="498.5" stroke="#111" stroke-width="1.25" stroke-dasharray="3 1.2"/><line x1="178.2" y1="366" x2="178.2" y2="498.5" stroke="#111" stroke-width="1.25" stroke-dasharray="3 1.2"/><path d="M37.8 499.7V497.3M37.8 365.2V367.6M49.6 499.7V497.3M49.6 365.2V367.6M61.4 499.7V497.3M61.4 365.2V367.6M73.2 499.7V495.4M73.2 365.2V369.5M85 499.7V497.3M85 365.2V367.6M96.8 499.7V497.3M96.8 365.2V367.6M108.6 499.7V497.3M108.6 365.2V367.6M120.4 499.7V497.3M120.4 365.2V367.6M132.2 499.7V495.4M132.2 365.2V369.5M144 499.7V497.3M144 365.2V367.6M155.7 499.7V497.3M155.7 365.2V367.6M167.5 499.7V497.3M167.5 365.2V367.6M179.3 499.7V497.3M179.3 365.2V367.6M191.1 499.7V495.4M191.1 365.2V369.5M202.9 499.7V497.3M202.9 365.2V367.6M26.1 387.6H28.9M214.7 387.6H211.9M26.1 410H28.9M214.7 410H211.9M26.1 432.4H28.9M214.7 432.4H211.9M26.1 454.9H28.9M214.7 454.9H211.9M26.1 477.3H28.9M214.7 477.3H211.9" stroke="#000" stroke-width="1.3" fill="none"/><rect x="26.05" y="365.2" width="188.6" height="134.5" fill="none" stroke="#000" stroke-width="1.5"/><text x="73.2" y="509.9" class="tl">300</text><text x="132.2" y="509.9" class="tl">350</text><text x="191.1" y="509.9" class="tl">400</text><text x="120.4" y="520.5" class="al">Raman Shift (cm<tspan dx="1.2" dy="-4.2" font-size="7.5">-1</tspan><tspan dy="4.2">)</tspan></text><text transform="translate(10.2,432.6) rotate(-90)" class="al">Normalized Intensity</text><text transform="translate(20.2,432.6) rotate(-90)" class="al">(arb. units)</text><text x="85.5" y="362.9" class="pl">d1</text><text x="110.6" y="362.9" class="pl">d2</text><text x="147.7" y="362.9" class="pl">d3</text><text x="174.2" y="362.9" class="pl">d4</text><text x="202.4" y="380.8" class="tag">(d)</text><text x="29.7" y="397.1" class="tp">450 °C</text><text x="29.9" y="494.2" class="tp">27 °C</text><path d="M246.1 409.7 L247.5 405.9 L248.9 407.7 L250.3 407.5 L251.7 404.5 L253.1 405.3 L254.5 402.6 L255.9 402.4 L257.3 402.8 L258.7 403.6 L260.1 400.4 L261.4 402.3 L262.8 401.3 L264.2 401.5 L265.6 400.9 L267 400.7 L268.4 400.6 L269.8 400.1 L271.2 399.1 L272.6 400.3 L274 398.5 L275.4 399.5 L276.8 401.1 L278.2 399.7 L279.6 400.7 L281 400.7 L282.4 399.7 L283.8 400.2 L285.2 399 L286.6 397.8 L288 398.9 L289.4 397.3 L290.8 394.6 L292.2 395 L293.6 393.5 L295 393.6 L296.4 393.9 L297.8 390.5 L299.2 390.8 L300.6 388.9 L302 386.6 L303.4 385.3 L304.8 383.1 L306.2 383.8 L307.6 382.6 L309 382.8 L310.4 382.9 L311.8 384 L313.2 385.1 L314.6 384.6 L316 386.1 L317.4 387 L318.8 387.6 L320.2 389.7 L321.6 388.3 L323 387.5 L324.4 389.3 L325.8 387.9 L327.2 389 L328.6 389.2 L330 387 L331.4 389 L332.8 391.3 L334.2 392.7 L335.6 392.8 L337 393.7 L338.4 394.7 L339.8 395.8 L341.2 398.5 L342.6 399.1 L344 400.6 L345.4 401.2 L346.8 401.6 L348.2 402.7 L349.6 404.8 L351 406.6 L352.4 405.3 L353.8 407.2 L355.2 407.3 L356.6 406.2 L358 408.5 L359.4 405.8 L360.8 404.3 L362.2 404.8 L363.6 405 L365 404.1 L366.4 405.3 L367.8 404.6 L369.2 406 L370.6 407.9 L372 406.5 L373.4 407.5 L374.8 408.1 L376.2 405.4 L377.6 408.1 L379 408.4 L380.4 408.1 L381.8 407 L383.2 404.3 L384.6 403.1 L386 401.3 L387.4 397.5 L388.8 395.6 L390.2 394.2 L391.6 392.9 L393 391.2 L394.4 388.4 L395.8 389.2 L397.2 392 L398.6 394.5 L400 393.9 L401.4 395.7 L402.8 397.6 L404.2 400.7 L405.6 404.6 L407 406.8 L408.4 408.8 L409.8 410 L411.2 411.2 L412.6 413.1 L414 414.7 L415.4 413.7 L416.8 415.6 L418.2 416.1 L419.6 416.6 L421 418 L422.4 417 L423.8 418.8 L425.2 416.4 L426.6 419.1 L428 419.6 L429.4 420 L430.8 418.8 L432.2 420.1 L433.6 419.3 L434.4 421.1" fill="none" stroke="#ff1493" stroke-width="1.6" stroke-linejoin="round"/><path d="M246.1 417 L247.5 415.8 L248.9 416.5 L250.3 415.1 L251.7 414 L253.1 416.2 L254.5 413.3 L255.9 413.5 L257.3 411.8 L258.7 411.7 L260.1 412.3 L261.4 412.4 L262.8 411.4 L264.2 410.3 L265.6 411.1 L267 410.8 L268.4 411.4 L269.8 410.3 L271.2 411.6 L272.6 409.8 L274 410.5 L275.4 410 L276.8 410.8 L278.2 411.7 L279.6 412.3 L281 410.9 L282.4 410.6 L283.8 409.8 L285.2 411 L286.6 409.2 L288 409.5 L289.4 409.6 L290.8 408.3 L292.2 408 L293.6 405.4 L295 406.6 L296.4 402.4 L297.8 402.6 L299.2 401.4 L300.6 400 L302 396.8 L303.4 394.7 L304.8 394.2 L306.2 393.9 L307.6 393.2 L309 393.3 L310.4 392.9 L311.8 393.3 L313.2 393.6 L314.6 392.8 L316 395.2 L317.4 394.5 L318.8 395.8 L320.2 396.8 L321.6 397.3 L323 397.3 L324.4 395.8 L325.8 398.2 L327.2 397.8 L328.6 400.3 L330 401.1 L331.4 399.1 L332.8 401.3 L334.2 401.5 L335.6 402.2 L337 404.4 L338.4 404 L339.8 406 L341.2 406.9 L342.6 408.9 L344 410.5 L345.4 411.4 L346.8 412.3 L348.2 413.1 L349.6 415.2 L351 415.5 L352.4 416.5 L353.8 418.6 L355.2 419.4 L356.6 418.1 L358 418.9 L359.4 419.2 L360.8 419.5 L362.2 417.9 L363.6 418 L365 417.1 L366.4 418 L367.8 419 L369.2 418.4 L370.6 417.8 L372 418.7 L373.4 418 L374.8 418.4 L376.2 416.7 L377.6 417.5 L379 417.1 L380.4 416.6 L381.8 416.2 L383.2 414 L384.6 413.1 L386 411.6 L387.4 409.3 L388.8 406.1 L390.2 403.1 L391.6 400.9 L393 399.6 L394.4 398.6 L395.8 396.8 L397.2 398 L398.6 396.3 L400 399.7 L401.4 399.3 L402.8 401.8 L404.2 404.5 L405.6 406.5 L407 411 L408.4 411.9 L409.8 414.8 L411.2 419.1 L412.6 424.2 L414 423.9 L415.4 424 L416.8 424.8 L418.2 424.7 L419.6 425.9 L421 427.5 L422.4 427.3 L423.8 426.9 L425.2 428.3 L426.6 427.6 L428 427.6 L429.4 427.4 L430.8 429.1 L432.2 429.7 L433.6 428.6 L434.4 430.3" fill="none" stroke="#101048" stroke-width="1.6" stroke-linejoin="round"/><path d="M246.1 427.2 L247.5 425 L248.9 424.4 L250.3 423.4 L251.7 425.1 L253.1 422 L254.5 422.4 L255.9 422.2 L257.3 421.4 L258.7 420.3 L260.1 420.2 L261.4 419.2 L262.8 421.1 L264.2 419.9 L265.6 418.6 L267 419.2 L268.4 420.6 L269.8 420.1 L271.2 419.6 L272.6 420.8 L274 420.7 L275.4 418.9 L276.8 419.7 L278.2 421.1 L279.6 420.1 L281 419.9 L282.4 420.4 L283.8 421 L285.2 420.4 L286.6 422.2 L288 420.8 L289.4 419.4 L290.8 419.9 L292.2 417.3 L293.6 417.3 L295 416.2 L296.4 416.2 L297.8 414.7 L299.2 411.8 L300.6 410.6 L302 409.4 L303.4 407 L304.8 403.2 L306.2 403 L307.6 401.1 L309 402.5 L310.4 402.5 L311.8 401.7 L313.2 402.8 L314.6 403.9 L316 403.6 L317.4 406.4 L318.8 406.6 L320.2 406.8 L321.6 407.6 L323 407.7 L324.4 408.3 L325.8 408 L327.2 409.3 L328.6 407.8 L330 408.6 L331.4 408.4 L332.8 410.2 L334.2 411 L335.6 412.2 L337 411.5 L338.4 414.4 L339.8 415 L341.2 415.8 L342.6 416.9 L344 418 L345.4 419.8 L346.8 420.8 L348.2 422.2 L349.6 423.1 L351 424.4 L352.4 424 L353.8 425.3 L355.2 427.7 L356.6 428.6 L358 428.2 L359.4 429.9 L360.8 428.2 L362.2 427.3 L363.6 426.8 L365 426 L366.4 426.3 L367.8 426.8 L369.2 425.9 L370.6 426.4 L372 427 L373.4 426.4 L374.8 425.9 L376.2 425.4 L377.6 426 L379 427.4 L380.4 427.6 L381.8 428.2 L383.2 425.5 L384.6 424.3 L386 420.2 L387.4 418.3 L388.8 416.1 L390.2 414.1 L391.6 412.3 L393 410 L394.4 409 L395.8 407.4 L397.2 405.1 L398.6 406 L400 406.8 L401.4 407.8 L402.8 410 L404.2 413.6 L405.6 416.1 L407 419.8 L408.4 423.2 L409.8 425.8 L411.2 428.7 L412.6 429.8 L414 430.9 L415.4 432.1 L416.8 432.6 L418.2 435 L419.6 435.1 L421 436.7 L422.4 437 L423.8 436.2 L425.2 436.3 L426.6 437.3 L428 437.8 L429.4 438.4 L430.8 435.7 L432.2 436.4 L433.6 437.9 L434.4 438.9" fill="none" stroke="#8a8a00" stroke-width="1.6" stroke-linejoin="round"/><path d="M246.1 434.4 L247.5 435.2 L248.9 434.1 L250.3 433.3 L251.7 432.6 L253.1 432.9 L254.5 431.7 L255.9 431.1 L257.3 429.2 L258.7 430.8 L260.1 429.1 L261.4 427.9 L262.8 430.1 L264.2 429 L265.6 428.4 L267 426.2 L268.4 429.9 L269.8 427.1 L271.2 428 L272.6 427.4 L274 428.7 L275.4 427.9 L276.8 428.5 L278.2 428.4 L279.6 429.4 L281 428.5 L282.4 429.6 L283.8 428.9 L285.2 429.6 L286.6 430.3 L288 428.2 L289.4 427.9 L290.8 428.1 L292.2 426.2 L293.6 425.6 L295 423.6 L296.4 424.1 L297.8 421.1 L299.2 419.5 L300.6 417.7 L302 418.2 L303.4 416.4 L304.8 415 L306.2 414.2 L307.6 411.7 L309 412.7 L310.4 411.2 L311.8 411.2 L313.2 411.7 L314.6 411.2 L316 411.6 L317.4 413.7 L318.8 413.7 L320.2 414.8 L321.6 416.7 L323 418.3 L324.4 418.8 L325.8 418.3 L327.2 418 L328.6 417.4 L330 416.7 L331.4 418 L332.8 416.4 L334.2 417.9 L335.6 419.7 L337 419.5 L338.4 421.7 L339.8 422.9 L341.2 424.6 L342.6 425.4 L344 425.8 L345.4 427.6 L346.8 428.9 L348.2 429.1 L349.6 431.4 L351 431.9 L352.4 431.8 L353.8 433.7 L355.2 435.5 L356.6 436.2 L358 438.3 L359.4 438.9 L360.8 438.8 L362.2 439.1 L363.6 435.6 L365 436.8 L366.4 435.3 L367.8 435.6 L369.2 435 L370.6 435.3 L372 435.5 L373.4 435.3 L374.8 434.5 L376.2 434.1 L377.6 433.9 L379 435.5 L380.4 437.7 L381.8 437.5 L383.2 434.5 L384.6 435.2 L386 431.9 L387.4 429.7 L388.8 427.9 L390.2 423.9 L391.6 423.2 L393 420.3 L394.4 420.1 L395.8 417 L397.2 414.6 L398.6 414 L400 414 L401.4 413.8 L402.8 416.8 L404.2 418.7 L405.6 423.5 L407 425 L408.4 428.5 L409.8 432.1 L411.2 434.8 L412.6 436.8 L414 438.9 L415.4 441.5 L416.8 444.5 L418.2 443.4 L419.6 445.1 L421 445.9 L422.4 444.9 L423.8 445.7 L425.2 445.7 L426.6 445.7 L428 445.9 L429.4 445.2 L430.8 445.5 L432.2 446.4 L433.6 446.4 L434.4 446.1" fill="none" stroke="#8b0000" stroke-width="1.6" stroke-linejoin="round"/><path d="M246.1 445.2 L247.5 444.7 L248.9 444.4 L250.3 446 L251.7 444 L253.1 442.7 L254.5 442.5 L255.9 443 L257.3 441.2 L258.7 440.8 L260.1 440.7 L261.4 438.7 L262.8 439.4 L264.2 439.9 L265.6 439 L267 439.5 L268.4 439.9 L269.8 439.2 L271.2 441 L272.6 440.4 L274 440.4 L275.4 438.9 L276.8 439.4 L278.2 438.9 L279.6 438.8 L281 439.2 L282.4 439.1 L283.8 439.9 L285.2 438.4 L286.6 440 L288 439.8 L289.4 438.1 L290.8 437.8 L292.2 436.6 L293.6 434.5 L295 433.3 L296.4 432.8 L297.8 431.9 L299.2 429.7 L300.6 427.9 L302 426.8 L303.4 423.6 L304.8 421.2 L306.2 421.2 L307.6 421.3 L309 421.8 L310.4 420.4 L311.8 420.5 L313.2 419 L314.6 420.7 L316 422 L317.4 423.3 L318.8 424.3 L320.2 426.1 L321.6 424.8 L323 425.3 L324.4 427.1 L325.8 425.6 L327.2 425.3 L328.6 425.7 L330 426.8 L331.4 429.2 L332.8 428.1 L334.2 428.3 L335.6 429.5 L337 430.8 L338.4 429.7 L339.8 431 L341.2 434.9 L342.6 434.8 L344 436.6 L345.4 439.1 L346.8 440 L348.2 441.5 L349.6 443.6 L351 443.9 L352.4 443.4 L353.8 445.5 L355.2 444.9 L356.6 445.2 L358 445.2 L359.4 445.5 L360.8 447.3 L362.2 445.8 L363.6 444.3 L365 445.2 L366.4 445.4 L367.8 446.5 L369.2 446.6 L370.6 446.6 L372 444.4 L373.4 444.8 L374.8 444.3 L376.2 446.4 L377.6 445.1 L379 445 L380.4 444.4 L381.8 444.3 L383.2 444.4 L384.6 444.1 L386 439 L387.4 438.4 L388.8 436.7 L390.2 434.8 L391.6 434.6 L393 431.2 L394.4 428.1 L395.8 426 L397.2 426.4 L398.6 426.7 L400 427.8 L401.4 429.1 L402.8 430.6 L404.2 433 L405.6 434.3 L407 440.6 L408.4 443 L409.8 445.2 L411.2 447.4 L412.6 451.4 L414 451.8 L415.4 453.4 L416.8 451.9 L418.2 452 L419.6 455 L421 452.5 L422.4 455.2 L423.8 453.2 L425.2 454.1 L426.6 455.2 L428 454.3 L429.4 454 L430.8 456 L432.2 456.8 L433.6 454.2 L434.4 456" fill="none" stroke="#0000ff" stroke-width="1.6" stroke-linejoin="round"/><path d="M246.1 457 L247.5 456.1 L248.9 454.6 L250.3 454.7 L251.7 455.7 L253.1 453.6 L254.5 454.1 L255.9 452.7 L257.3 453.1 L258.7 451.5 L260.1 452.4 L261.4 450.2 L262.8 451.9 L264.2 449.9 L265.6 448.2 L267 450 L268.4 448.6 L269.8 450.9 L271.2 450.1 L272.6 448.1 L274 449.9 L275.4 449.1 L276.8 449.3 L278.2 448.5 L279.6 451 L281 450.1 L282.4 452.3 L283.8 450.6 L285.2 451.8 L286.6 450 L288 449.6 L289.4 447.6 L290.8 447.7 L292.2 446.5 L293.6 444.9 L295 442.4 L296.4 441.8 L297.8 441.7 L299.2 439.6 L300.6 437.2 L302 434.9 L303.4 433.1 L304.8 433.1 L306.2 430.5 L307.6 429.3 L309 426.8 L310.4 428.6 L311.8 429.2 L313.2 428.8 L314.6 431.4 L316 429.8 L317.4 432.7 L318.8 433.4 L320.2 433.6 L321.6 433.5 L323 435.4 L324.4 436.9 L325.8 436 L327.2 437.8 L328.6 436.7 L330 435.5 L331.4 435 L332.8 435.5 L334.2 435.9 L335.6 437.6 L337 438.1 L338.4 440.7 L339.8 442.5 L341.2 443.3 L342.6 444.1 L344 446.8 L345.4 448.2 L346.8 450.3 L348.2 450.2 L349.6 451.1 L351 452.8 L352.4 456 L353.8 456.8 L355.2 456 L356.6 458.2 L358 459.5 L359.4 459.9 L360.8 457 L362.2 457.8 L363.6 457.9 L365 457.2 L366.4 456.5 L367.8 455.6 L369.2 455.5 L370.6 453.9 L372 455.2 L373.4 456.7 L374.8 457.7 L376.2 455 L377.6 456.4 L379 455.1 L380.4 455.6 L381.8 456.5 L383.2 456.3 L384.6 454.5 L386 452.5 L387.4 452.4 L388.8 449.4 L390.2 446.4 L391.6 443.9 L393 442.7 L394.4 439.7 L395.8 436.1 L397.2 435.5 L398.6 434.9 L400 434 L401.4 437 L402.8 437.1 L404.2 440.5 L405.6 443.9 L407 445.8 L408.4 449 L409.8 453.5 L411.2 455.9 L412.6 459 L414 460.5 L415.4 460.9 L416.8 463.6 L418.2 463.2 L419.6 465.7 L421 465.5 L422.4 464.4 L423.8 466.5 L425.2 464.7 L426.6 464.6 L428 464.9 L429.4 465 L430.8 466 L432.2 466.7 L433.6 467.2 L434.4 465.8" fill="none" stroke="#1a8a1a" stroke-width="1.6" stroke-linejoin="round"/><path d="M246.1 468.1 L247.5 467.7 L248.9 464.8 L250.3 465.5 L251.7 465.1 L253.1 463 L254.5 462.2 L255.9 460.9 L257.3 461.9 L258.7 461.9 L260.1 461.4 L261.4 460.8 L262.8 460.5 L264.2 458.5 L265.6 457.5 L267 458.3 L268.4 459.4 L269.8 458.1 L271.2 457.1 L272.6 455.6 L274 456.7 L275.4 456.5 L276.8 457.3 L278.2 458.2 L279.6 458.9 L281 458.8 L282.4 460.6 L283.8 460.2 L285.2 460 L286.6 460.8 L288 459.2 L289.4 461.2 L290.8 458 L292.2 459.2 L293.6 458.7 L295 456.9 L296.4 454.1 L297.8 453.6 L299.2 452.6 L300.6 451.1 L302 449.7 L303.4 446.1 L304.8 443.9 L306.2 442.2 L307.6 440.1 L309 437.9 L310.4 439 L311.8 438.7 L313.2 437.6 L314.6 438.2 L316 439.2 L317.4 440.9 L318.8 441.9 L320.2 444.5 L321.6 445.1 L323 446.1 L324.4 445.6 L325.8 446.7 L327.2 445.6 L328.6 444.6 L330 445.7 L331.4 445.1 L332.8 446 L334.2 446.5 L335.6 447.2 L337 446.5 L338.4 448.6 L339.8 450.1 L341.2 452.8 L342.6 454.5 L344 455.9 L345.4 457 L346.8 457 L348.2 460.1 L349.6 463 L351 462.4 L352.4 464.6 L353.8 465.4 L355.2 466.3 L356.6 468 L358 469.1 L359.4 468 L360.8 468.5 L362.2 466.9 L363.6 468.6 L365 466.6 L366.4 465.3 L367.8 464.9 L369.2 465.6 L370.6 464 L372 464.8 L373.4 464.4 L374.8 463.7 L376.2 465.3 L377.6 463.7 L379 467 L380.4 466.3 L381.8 466.2 L383.2 466.1 L384.6 464.7 L386 465.1 L387.4 463.6 L388.8 461 L390.2 457.9 L391.6 454.4 L393 450.8 L394.4 445.7 L395.8 441.8 L397.2 440.3 L398.6 439.8 L400 441.7 L401.4 442.4 L402.8 441.5 L404.2 445.8 L405.6 447.9 L407 451.6 L408.4 456.3 L409.8 460.9 L411.2 463.7 L412.6 467.7 L414 469.5 L415.4 470.3 L416.8 472.4 L418.2 472.6 L419.6 472.2 L421 474.6 L422.4 473.7 L423.8 475.9 L425.2 475.5 L426.6 474.8 L428 476.8 L429.4 475.1 L430.8 476.1 L432.2 476.8 L433.6 477.5 L434.4 476.1" fill="none" stroke="#ff8c00" stroke-width="1.6" stroke-linejoin="round"/><path d="M246.1 476.8 L247.5 475.4 L248.9 474 L250.3 474.6 L251.7 471.8 L253.1 473.1 L254.5 471.9 L255.9 471.5 L257.3 470.6 L258.7 470 L260.1 468.7 L261.4 470.5 L262.8 468.9 L264.2 467 L265.6 468.3 L267 467.4 L268.4 466.9 L269.8 466.8 L271.2 466.1 L272.6 468 L274 468 L275.4 466.3 L276.8 467.1 L278.2 466.4 L279.6 466.6 L281 468.1 L282.4 468.7 L283.8 470.1 L285.2 469.7 L286.6 469.3 L288 470.1 L289.4 469.6 L290.8 469 L292.2 466.7 L293.6 468.8 L295 467.7 L296.4 466 L297.8 463.9 L299.2 461.7 L300.6 461 L302 459.8 L303.4 456.8 L304.8 454.8 L306.2 453.4 L307.6 450.6 L309 448.7 L310.4 447.7 L311.8 445.9 L313.2 447.5 L314.6 446.9 L316 447.7 L317.4 449 L318.8 451 L320.2 450.8 L321.6 453 L323 454.1 L324.4 455.5 L325.8 456.4 L327.2 456 L328.6 457.1 L330 454.8 L331.4 454.9 L332.8 457.2 L334.2 456.2 L335.6 456.2 L337 455.8 L338.4 459.1 L339.8 458.9 L341.2 460.9 L342.6 461.3 L344 464.1 L345.4 466.8 L346.8 467.6 L348.2 470.9 L349.6 470.7 L351 472.1 L352.4 473.7 L353.8 475.3 L355.2 475.8 L356.6 477.2 L358 477.9 L359.4 477.6 L360.8 477.3 L362.2 477.9 L363.6 478.2 L365 477.4 L366.4 476.4 L367.8 476.2 L369.2 475.4 L370.6 474.4 L372 473.5 L373.4 473.7 L374.8 472.6 L376.2 474 L377.6 473.1 L379 471.8 L380.4 473.4 L381.8 473.9 L383.2 474.9 L384.6 474.5 L386 474.3 L387.4 472.9 L388.8 469.9 L390.2 468.2 L391.6 463.7 L393 461.9 L394.4 459.9 L395.8 457.6 L397.2 455.1 L398.6 452.1 L400 450.5 L401.4 449.8 L402.8 450.8 L404.2 454.6 L405.6 456 L407 459.9 L408.4 466.1 L409.8 470.3 L411.2 472.4 L412.6 477.3 L414 480.4 L415.4 481.1 L416.8 480.2 L418.2 482.1 L419.6 483.2 L421 483.6 L422.4 484.3 L423.8 483.3 L425.2 483.1 L426.6 483.6 L428 483.5 L429.4 483.8 L430.8 483.1 L432.2 483.1 L433.6 483.8 L434.4 484.7" fill="none" stroke="#ff0000" stroke-width="1.6" stroke-linejoin="round"/><path d="M246.1 486.4 L247.5 486.2 L248.9 486.5 L250.3 487.1 L251.7 485.9 L253.1 485.8 L254.5 484.6 L255.9 483.8 L257.3 483.2 L258.7 483.3 L260.1 484.1 L261.4 483.9 L262.8 483.1 L264.2 481.2 L265.6 481.2 L267 480 L268.4 480.7 L269.8 480.4 L271.2 479.7 L272.6 479.4 L274 478.7 L275.4 481.2 L276.8 480 L278.2 480.5 L279.6 481.3 L281 482.7 L282.4 481.5 L283.8 483.7 L285.2 483.5 L286.6 484.3 L288 482.7 L289.4 482.9 L290.8 482 L292.2 481.7 L293.6 481.2 L295 480.4 L296.4 480.3 L297.8 479.2 L299.2 478.8 L300.6 477.4 L302 477.8 L303.4 472.7 L304.8 469.7 L306.2 466.2 L307.6 461.4 L309 461.4 L310.4 459.4 L311.8 458.2 L313.2 456.8 L314.6 456.8 L316 456.7 L317.4 454.5 L318.8 456.8 L320.2 460.5 L321.6 460.7 L323 460.1 L324.4 461.9 L325.8 465.1 L327.2 467.5 L328.6 468 L330 467.8 L331.4 468.3 L332.8 470.5 L334.2 469.8 L335.6 469.1 L337 469.9 L338.4 467.7 L339.8 468.9 L341.2 471.3 L342.6 473.4 L344 473.4 L345.4 473.6 L346.8 475.3 L348.2 476.8 L349.6 479.2 L351 480 L352.4 481 L353.8 482.4 L355.2 484.6 L356.6 486.3 L358 487 L359.4 487.7 L360.8 489.3 L362.2 489 L363.6 490 L365 489.6 L366.4 489.1 L367.8 486.6 L369.2 487.4 L370.6 487.9 L372 485.7 L373.4 486.3 L374.8 485.3 L376.2 485.1 L377.6 485.6 L379 486.1 L380.4 487.2 L381.8 486.5 L383.2 487.4 L384.6 488.8 L386 486.7 L387.4 486 L388.8 487.5 L390.2 485 L391.6 482.5 L393 480.1 L394.4 478.5 L395.8 475 L397.2 473.3 L398.6 469.4 L400 468.1 L401.4 465.2 L402.8 464.4 L404.2 465.3 L405.6 466.3 L407 469.2 L408.4 473.7 L409.8 474.8 L411.2 479.3 L412.6 481.4 L414 483.4 L415.4 487.4 L416.8 489 L418.2 490.7 L419.6 493.9 L421 495.2 L422.4 495.3 L423.8 495.2 L425.2 495.1 L426.6 495 L428 494.9 L429.4 494.8 L430.8 494.6 L432.2 494.5 L433.6 494.4 L434.4 494.3" fill="none" stroke="#000000" stroke-width="1.6" stroke-linejoin="round"/><line x1="307.9" y1="366" x2="307.9" y2="498.9" stroke="#111" stroke-width="1.25" stroke-dasharray="3 1.2"/><line x1="316.9" y1="366" x2="316.9" y2="498.9" stroke="#111" stroke-width="1.25" stroke-dasharray="3 1.2"/><line x1="330.4" y1="366" x2="330.4" y2="498.9" stroke="#111" stroke-width="1.25" stroke-dasharray="3 1.2"/><line x1="339.1" y1="366" x2="339.1" y2="498.9" stroke="#111" stroke-width="1.25" stroke-dasharray="3 1.2"/><line x1="366.7" y1="366" x2="366.7" y2="498.9" stroke="#111" stroke-width="1.25" stroke-dasharray="3 1.2"/><line x1="375.7" y1="366" x2="375.7" y2="498.9" stroke="#111" stroke-width="1.25" stroke-dasharray="3 1.2"/><line x1="394.6" y1="366" x2="394.6" y2="498.9" stroke="#111" stroke-width="1.25" stroke-dasharray="3 1.2"/><line x1="402.0" y1="366" x2="402.0" y2="498.9" stroke="#111" stroke-width="1.25" stroke-dasharray="3 1.2"/><path d="M257.8 500.1V497.7M257.8 365.2V367.6M269.6 500.1V497.7M269.6 365.2V367.6M281.4 500.1V497.7M281.4 365.2V367.6M293.1 500.1V495.8M293.1 365.2V369.5M304.9 500.1V497.7M304.9 365.2V367.6M316.7 500.1V497.7M316.7 365.2V367.6M328.5 500.1V497.7M328.5 365.2V367.6M340.2 500.1V497.7M340.2 365.2V367.6M352 500.1V495.8M352 365.2V369.5M363.8 500.1V497.7M363.8 365.2V367.6M375.5 500.1V497.7M375.5 365.2V367.6M387.3 500.1V497.7M387.3 365.2V367.6M399.1 500.1V497.7M399.1 365.2V367.6M410.9 500.1V495.8M410.9 365.2V369.5M422.6 500.1V497.7M422.6 365.2V367.6M246.1 387.7H248.9M434.4 387.7H431.6M246.1 410.2H248.9M434.4 410.2H431.6M246.1 432.6H248.9M434.4 432.6H431.6M246.1 455.1H248.9M434.4 455.1H431.6M246.1 477.6H248.9M434.4 477.6H431.6" stroke="#000" stroke-width="1.3" fill="none"/><rect x="246.05" y="365.2" width="188.3" height="134.9" fill="none" stroke="#000" stroke-width="1.5"/><text x="293.1" y="510.3" class="tl">300</text><text x="352" y="510.3" class="tl">350</text><text x="410.9" y="510.3" class="tl">400</text><text x="340.2" y="520.9" class="al">Raman Shift (cm<tspan dx="1.2" dy="-4.2" font-size="7.5">-1</tspan><tspan dy="4.2">)</tspan></text><text transform="translate(230.2,432.8) rotate(-90)" class="al">Normalized Intensity</text><text transform="translate(240.2,432.8) rotate(-90)" class="al">(arb. units)</text><text x="312.2" y="362.9" class="pl">e1</text><text x="335.3" y="362.9" class="pl">e2</text><text x="372.2" y="362.9" class="pl">e3</text><text x="397.8" y="362.9" class="pl">e4</text><text x="421.8" y="380.8" class="tag">(e)</text><text x="250.1" y="396.9" class="tp">450 °C</text><text x="252.9" y="495.9" class="tp">27 °C</text></svg></body></html>
